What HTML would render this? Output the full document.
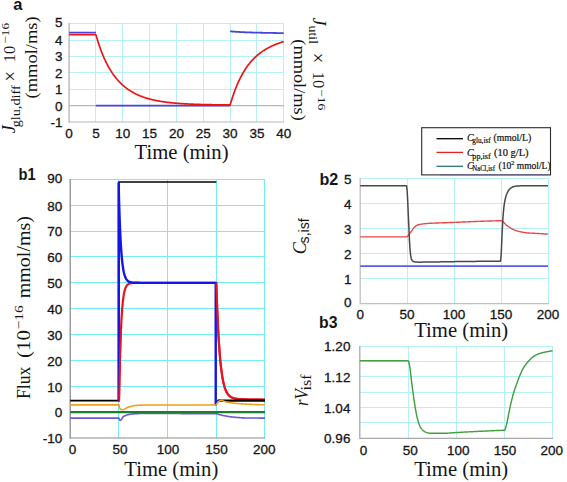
<!DOCTYPE html>
<html><head><meta charset="utf-8"><style>
html,body{margin:0;padding:0;background:#fff;}
body{width:567px;height:482px;overflow:hidden;font-family:"Liberation Sans",sans-serif;}
svg{display:block;}
</style></head><body>
<svg width="567" height="482" viewBox="0 0 567 482">
<rect width="567" height="482" fill="#fff"/>
<line x1="69.1" y1="89.5" x2="284.0" y2="89.5" stroke="#b6f2f4" stroke-width="1"/>
<line x1="69.1" y1="72.5" x2="284.0" y2="72.5" stroke="#b6f2f4" stroke-width="1"/>
<line x1="69.1" y1="56.5" x2="284.0" y2="56.5" stroke="#b6f2f4" stroke-width="1"/>
<line x1="69.1" y1="40.5" x2="284.0" y2="40.5" stroke="#b6f2f4" stroke-width="1"/>
<line x1="69.1" y1="23.5" x2="284.0" y2="23.5" stroke="#b6f2f4" stroke-width="1"/>
<line x1="95.5" y1="23.0" x2="95.5" y2="122.0" stroke="#b6f2f4" stroke-width="1"/>
<line x1="122.5" y1="23.0" x2="122.5" y2="122.0" stroke="#b6f2f4" stroke-width="1"/>
<line x1="149.5" y1="23.0" x2="149.5" y2="122.0" stroke="#b6f2f4" stroke-width="1"/>
<line x1="176.5" y1="23.0" x2="176.5" y2="122.0" stroke="#b6f2f4" stroke-width="1"/>
<line x1="203.5" y1="23.0" x2="203.5" y2="122.0" stroke="#b6f2f4" stroke-width="1"/>
<line x1="230.5" y1="23.0" x2="230.5" y2="122.0" stroke="#b6f2f4" stroke-width="1"/>
<line x1="256.5" y1="23.0" x2="256.5" y2="122.0" stroke="#b6f2f4" stroke-width="1"/>
<line x1="283.5" y1="23.0" x2="283.5" y2="122.0" stroke="#b6f2f4" stroke-width="1"/>
<line x1="69.1" y1="23.0" x2="69.1" y2="122.7" stroke="#b8b8b8" stroke-width="1.4"/>
<line x1="69.1" y1="122.0" x2="284.0" y2="122.0" stroke="#b8b8b8" stroke-width="1.2"/>
<line x1="69.1" y1="105.6" x2="284.0" y2="105.6" stroke="#b8b8b8" stroke-width="1.2"/>
<path d="M69.10,32.64 L95.92,32.64" fill="none" stroke="#4646d8" stroke-width="1.80" stroke-linejoin="round" stroke-linecap="butt" />
<path d="M95.92,105.63 L230.05,105.63" fill="none" stroke="#4646d8" stroke-width="1.90" stroke-linejoin="round" stroke-linecap="butt" />
<path d="M230.05,31.33 L230.39,31.36 L230.72,31.38 L231.06,31.41 L231.40,31.44 L231.74,31.47 L232.07,31.49 L232.41,31.52 L232.75,31.55 L233.09,31.57 L233.42,31.60 L233.76,31.62 L234.10,31.65 L234.44,31.67 L234.77,31.70 L235.11,31.72 L235.45,31.74 L235.79,31.76 L236.12,31.78 L236.46,31.80 L236.80,31.83 L237.14,31.85 L237.47,31.87 L237.81,31.89 L238.15,31.91 L238.49,31.93 L238.82,31.95 L239.16,31.97 L239.50,31.99 L239.84,32.01 L240.17,32.02 L240.51,32.04 L240.85,32.06 L241.18,32.08 L241.52,32.10 L241.86,32.12 L242.20,32.13 L242.53,32.15 L242.87,32.17 L243.21,32.18 L243.55,32.20 L243.88,32.21 L244.22,32.23 L244.56,32.24 L244.90,32.26 L245.23,32.27 L245.57,32.29 L245.91,32.30 L246.25,32.31 L246.58,32.33 L246.92,32.34 L247.26,32.35 L247.60,32.36 L247.93,32.38 L248.27,32.39 L248.61,32.40 L248.95,32.41 L249.28,32.42 L249.62,32.43 L249.96,32.45 L250.30,32.46 L250.63,32.47 L250.97,32.48 L251.31,32.49 L251.64,32.50 L251.98,32.51 L252.32,32.52 L252.66,32.53 L252.99,32.54 L253.33,32.55 L253.67,32.55 L254.01,32.56 L254.34,32.57 L254.68,32.58 L255.02,32.59 L255.36,32.60 L255.69,32.61 L256.03,32.62 L256.37,32.63 L256.71,32.63 L257.04,32.64 L257.38,32.65 L257.72,32.66 L258.06,32.67 L258.39,32.67 L258.73,32.68 L259.07,32.69 L259.41,32.70 L259.74,32.71 L260.08,32.71 L260.42,32.72 L260.76,32.73 L261.09,32.74 L261.43,32.74 L261.77,32.75 L262.11,32.76 L262.44,32.77 L262.78,32.77 L263.12,32.78 L263.45,32.79 L263.79,32.79 L264.13,32.80 L264.47,32.81 L264.80,32.81 L265.14,32.82 L265.48,32.83 L265.82,32.83 L266.15,32.84 L266.49,32.85 L266.83,32.85 L267.17,32.86 L267.50,32.87 L267.84,32.87 L268.18,32.88 L268.52,32.89 L268.85,32.89 L269.19,32.90 L269.53,32.90 L269.87,32.91 L270.20,32.92 L270.54,32.92 L270.88,32.93 L271.22,32.93 L271.55,32.94 L271.89,32.95 L272.23,32.95 L272.57,32.96 L272.90,32.96 L273.24,32.97 L273.58,32.98 L273.91,32.98 L274.25,32.99 L274.59,32.99 L274.93,33.00 L275.26,33.00 L275.60,33.01 L275.94,33.01 L276.28,33.02 L276.61,33.03 L276.95,33.03 L277.29,33.04 L277.63,33.04 L277.96,33.05 L278.30,33.05 L278.64,33.06 L278.98,33.06 L279.31,33.07 L279.65,33.07 L279.99,33.08 L280.33,33.08 L280.66,33.09 L281.00,33.09 L281.34,33.10 L281.68,33.10 L282.01,33.11 L282.35,33.11 L282.69,33.12 L283.03,33.12 L283.36,33.12 L283.70,33.13" fill="none" stroke="#4646d8" stroke-width="1.80" stroke-linejoin="round" stroke-linecap="butt" />
<path d="M69.10,34.77 L95.92,34.77 L95.92,34.77 L96.37,36.34 L96.82,37.88 L97.27,39.37 L97.72,40.83 L98.17,42.25 L98.62,43.63 L99.07,44.98 L99.51,46.30 L99.96,47.58 L100.41,48.83 L100.86,50.05 L101.31,51.24 L101.76,52.40 L102.21,53.53 L102.65,54.63 L103.10,55.71 L103.55,56.76 L104.00,57.79 L104.45,58.79 L104.90,59.77 L105.35,60.73 L105.79,61.66 L106.24,62.57 L106.69,63.46 L107.14,64.33 L107.59,65.18 L108.04,66.01 L108.49,66.83 L108.93,67.62 L109.38,68.40 L109.83,69.15 L110.28,69.89 L110.73,70.62 L111.18,71.33 L111.63,72.02 L112.07,72.70 L112.52,73.36 L112.97,74.01 L113.42,74.64 L113.87,75.26 L114.32,75.87 L114.77,76.46 L115.21,77.04 L115.66,77.61 L116.11,78.17 L116.56,78.71 L117.01,79.24 L117.46,79.76 L117.91,80.27 L118.35,80.77 L118.80,81.26 L119.25,81.74 L119.70,82.21 L120.15,82.66 L120.60,83.11 L121.05,83.55 L121.49,83.98 L121.94,84.40 L122.39,84.82 L122.84,85.22 L123.29,85.62 L123.74,86.00 L124.19,86.38 L124.63,86.75 L125.08,87.12 L125.53,87.47 L125.98,87.82 L126.43,88.17 L126.88,88.50 L127.33,88.83 L127.77,89.15 L128.22,89.46 L128.67,89.77 L129.12,90.08 L129.57,90.37 L130.02,90.66 L130.47,90.95 L130.91,91.23 L131.36,91.50 L131.81,91.77 L132.26,92.03 L132.71,92.29 L133.16,92.54 L133.61,92.78 L134.05,93.03 L134.50,93.26 L134.95,93.50 L135.40,93.72 L135.85,93.95 L136.30,94.16 L136.75,94.38 L137.19,94.59 L137.64,94.80 L138.09,95.00 L138.54,95.19 L138.99,95.39 L139.44,95.58 L139.89,95.76 L140.33,95.95 L140.78,96.13 L141.23,96.30 L141.68,96.47 L142.13,96.64 L142.58,96.81 L143.03,96.97 L143.47,97.13 L143.92,97.28 L144.37,97.44 L144.82,97.59 L145.27,97.73 L145.72,97.88 L146.17,98.02 L146.61,98.16 L147.06,98.29 L147.51,98.43 L147.96,98.56 L148.41,98.68 L148.86,98.81 L149.31,98.93 L149.75,99.05 L150.20,99.17 L150.65,99.29 L151.10,99.40 L151.55,99.51 L152.00,99.62 L152.45,99.73 L152.89,99.83 L153.34,99.93 L153.79,100.03 L154.24,100.13 L154.69,100.23 L155.14,100.33 L155.59,100.42 L156.03,100.51 L156.48,100.60 L156.93,100.69 L157.38,100.77 L157.83,100.86 L158.28,100.94 L158.73,101.02 L159.17,101.10 L159.62,101.18 L160.07,101.26 L160.52,101.33 L160.97,101.40 L161.42,101.48 L161.87,101.55 L162.31,101.62 L162.76,101.69 L163.21,101.75 L163.66,101.82 L164.11,101.88 L164.56,101.94 L165.01,102.01 L165.45,102.07 L165.90,102.13 L166.35,102.18 L166.80,102.24 L167.25,102.30 L167.70,102.35 L168.15,102.41 L168.59,102.46 L169.04,102.51 L169.49,102.56 L169.94,102.61 L170.39,102.66 L170.84,102.71 L171.29,102.75 L171.73,102.80 L172.18,102.85 L172.63,102.89 L173.08,102.93 L173.53,102.98 L173.98,103.02 L174.43,103.06 L174.87,103.10 L175.32,103.14 L175.77,103.18 L176.22,103.21 L176.67,103.25 L177.12,103.29 L177.57,103.32 L178.01,103.36 L178.46,103.39 L178.91,103.43 L179.36,103.46 L179.81,103.49 L180.26,103.52 L180.71,103.55 L181.15,103.58 L181.60,103.61 L182.05,103.64 L182.50,103.67 L182.95,103.70 L183.40,103.73 L183.85,103.76 L184.29,103.78 L184.74,103.81 L185.19,103.83 L185.64,103.86 L186.09,103.88 L186.54,103.91 L186.99,103.93 L187.44,103.95 L187.88,103.98 L188.33,104.00 L188.78,104.02 L189.23,104.04 L189.68,104.06 L190.13,104.08 L190.58,104.10 L191.02,104.12 L191.47,104.14 L191.92,104.16 L192.37,104.18 L192.82,104.20 L193.27,104.22 L193.72,104.24 L194.16,104.25 L194.61,104.27 L195.06,104.29 L195.51,104.30 L195.96,104.32 L196.41,104.33 L196.86,104.35 L197.30,104.37 L197.75,104.38 L198.20,104.39 L198.65,104.41 L199.10,104.42 L199.55,104.44 L200.00,104.45 L200.44,104.46 L200.89,104.48 L201.34,104.49 L201.79,104.50 L202.24,104.51 L202.69,104.52 L203.14,104.54 L203.58,104.55 L204.03,104.56 L204.48,104.57 L204.93,104.58 L205.38,104.59 L205.83,104.60 L206.28,104.61 L206.72,104.62 L207.17,104.63 L207.62,104.64 L208.07,104.65 L208.52,104.66 L208.97,104.67 L209.42,104.68 L209.86,104.69 L210.31,104.70 L210.76,104.70 L211.21,104.71 L211.66,104.72 L212.11,104.73 L212.56,104.74 L213.00,104.74 L213.45,104.75 L213.90,104.76 L214.35,104.77 L214.80,104.77 L215.25,104.78 L215.70,104.79 L216.14,104.79 L216.59,104.80 L217.04,104.81 L217.49,104.81 L217.94,104.82 L218.39,104.82 L218.84,104.83 L219.28,104.84 L219.73,104.84 L220.18,104.85 L220.63,104.85 L221.08,104.86 L221.53,104.86 L221.98,104.87 L222.42,104.87 L222.87,104.88 L223.32,104.88 L223.77,104.89 L224.22,104.89 L224.67,104.90 L225.12,104.90 L225.56,104.91 L226.01,104.91 L226.46,104.92 L226.91,104.92 L227.36,104.92 L227.81,104.93 L228.26,104.93 L228.70,104.94 L229.15,104.94 L229.60,104.94 L230.05,104.95 L230.05,105.14 L230.41,103.92 L230.77,102.72 L231.13,101.54 L231.49,100.38 L231.85,99.25 L232.21,98.14 L232.57,97.05 L232.93,95.98 L233.29,94.93 L233.65,93.90 L234.01,92.89 L234.37,91.90 L234.73,90.93 L235.09,89.98 L235.45,89.04 L235.81,88.13 L236.17,87.23 L236.53,86.35 L236.89,85.48 L237.25,84.63 L237.61,83.80 L237.97,82.98 L238.33,82.18 L238.69,81.39 L239.05,80.62 L239.41,79.86 L239.77,79.12 L240.13,78.39 L240.49,77.67 L240.85,76.97 L241.21,76.28 L241.57,75.60 L241.93,74.93 L242.29,74.28 L242.65,73.64 L243.01,73.01 L243.37,72.39 L243.73,71.79 L244.09,71.19 L244.45,70.61 L244.81,70.04 L245.17,69.47 L245.53,68.92 L245.89,68.38 L246.25,67.84 L246.61,67.32 L246.97,66.81 L247.33,66.30 L247.69,65.81 L248.05,65.32 L248.41,64.84 L248.77,64.37 L249.13,63.91 L249.49,63.46 L249.85,63.01 L250.21,62.57 L250.57,62.14 L250.93,61.72 L251.29,61.31 L251.65,60.90 L252.01,60.50 L252.37,60.10 L252.73,59.72 L253.09,59.34 L253.45,58.96 L253.81,58.60 L254.17,58.23 L254.53,57.88 L254.89,57.53 L255.25,57.19 L255.61,56.85 L255.97,56.52 L256.33,56.19 L256.69,55.87 L257.06,55.55 L257.42,55.24 L257.78,54.94 L258.14,54.64 L258.50,54.34 L258.86,54.05 L259.22,53.76 L259.58,53.48 L259.94,53.21 L260.30,52.93 L260.66,52.67 L261.02,52.40 L261.38,52.14 L261.74,51.89 L262.10,51.63 L262.46,51.39 L262.82,51.14 L263.18,50.90 L263.54,50.66 L263.90,50.43 L264.26,50.20 L264.62,49.97 L264.98,49.75 L265.34,49.53 L265.70,49.32 L266.06,49.10 L266.42,48.89 L266.78,48.69 L267.14,48.48 L267.50,48.28 L267.86,48.08 L268.22,47.89 L268.58,47.69 L268.94,47.50 L269.30,47.32 L269.66,47.13 L270.02,46.95 L270.38,46.77 L270.74,46.59 L271.10,46.42 L271.46,46.25 L271.82,46.08 L272.18,45.91 L272.54,45.74 L272.90,45.58 L273.26,45.42 L273.62,45.26 L273.98,45.10 L274.34,44.94 L274.70,44.79 L275.06,44.64 L275.42,44.49 L275.78,44.34 L276.14,44.19 L276.50,44.05 L276.86,43.91 L277.22,43.77 L277.58,43.63 L277.94,43.49 L278.30,43.35 L278.66,43.22 L279.02,43.09 L279.38,42.95 L279.74,42.82 L280.10,42.70 L280.46,42.57 L280.82,42.44 L281.18,42.32 L281.54,42.19 L281.90,42.07 L282.26,41.95 L282.62,41.83 L282.98,41.71 L283.34,41.60 L283.70,41.48" fill="none" stroke="#f01414" stroke-width="1.70" stroke-linejoin="round" stroke-linecap="butt" />
<text x="62.6" y="27.4" font-family="Liberation Sans, sans-serif" font-size="13.5" text-anchor="end" fill="#151515" stroke="#151515" stroke-width="0.3">5</text>
<text x="62.6" y="45.1" font-family="Liberation Sans, sans-serif" font-size="13.5" text-anchor="end" fill="#151515" stroke="#151515" stroke-width="0.3">4</text>
<text x="62.6" y="61.4" font-family="Liberation Sans, sans-serif" font-size="13.5" text-anchor="end" fill="#151515" stroke="#151515" stroke-width="0.3">3</text>
<text x="62.6" y="77.8" font-family="Liberation Sans, sans-serif" font-size="13.5" text-anchor="end" fill="#151515" stroke="#151515" stroke-width="0.3">2</text>
<text x="62.6" y="94.2" font-family="Liberation Sans, sans-serif" font-size="13.5" text-anchor="end" fill="#151515" stroke="#151515" stroke-width="0.3">1</text>
<text x="62.6" y="110.5" font-family="Liberation Sans, sans-serif" font-size="13.5" text-anchor="end" fill="#151515" stroke="#151515" stroke-width="0.3">0</text>
<text x="62.6" y="126.9" font-family="Liberation Sans, sans-serif" font-size="13.5" text-anchor="end" fill="#151515" stroke="#151515" stroke-width="0.3">-1</text>
<text x="69.1" y="137.6" font-family="Liberation Sans, sans-serif" font-size="13.5" text-anchor="middle" fill="#151515" stroke="#151515" stroke-width="0.3">0</text>
<text x="95.9" y="137.6" font-family="Liberation Sans, sans-serif" font-size="13.5" text-anchor="middle" fill="#151515" stroke="#151515" stroke-width="0.3">5</text>
<text x="122.8" y="137.6" font-family="Liberation Sans, sans-serif" font-size="13.5" text-anchor="middle" fill="#151515" stroke="#151515" stroke-width="0.3">10</text>
<text x="149.6" y="137.6" font-family="Liberation Sans, sans-serif" font-size="13.5" text-anchor="middle" fill="#151515" stroke="#151515" stroke-width="0.3">15</text>
<text x="176.4" y="137.6" font-family="Liberation Sans, sans-serif" font-size="13.5" text-anchor="middle" fill="#151515" stroke="#151515" stroke-width="0.3">20</text>
<text x="203.2" y="137.6" font-family="Liberation Sans, sans-serif" font-size="13.5" text-anchor="middle" fill="#151515" stroke="#151515" stroke-width="0.3">25</text>
<text x="230.0" y="137.6" font-family="Liberation Sans, sans-serif" font-size="13.5" text-anchor="middle" fill="#151515" stroke="#151515" stroke-width="0.3">30</text>
<text x="256.9" y="137.6" font-family="Liberation Sans, sans-serif" font-size="13.5" text-anchor="middle" fill="#151515" stroke="#151515" stroke-width="0.3">35</text>
<text x="283.7" y="137.6" font-family="Liberation Sans, sans-serif" font-size="13.5" text-anchor="middle" fill="#151515" stroke="#151515" stroke-width="0.3">40</text>
<text x="181.6" y="158.6" font-family="Liberation Serif, serif" font-size="20.5" text-anchor="middle" textLength="94.0" lengthAdjust="spacingAndGlyphs" fill="#151515">Time (min)</text>
<text x="13.3" y="10" font-family="Liberation Sans, sans-serif" font-size="16.5" font-weight="bold" fill="#151515">a</text>
<g transform="translate(15.00,131.80) rotate(-90)"><text x="-1.50" y="0.00" font-family="Liberation Serif, serif" font-size="18.0" font-style="italic" fill="#151515">J</text><text x="4.50" y="4.60" font-family="Liberation Serif, serif" font-size="12.5" textLength="42.0" lengthAdjust="spacingAndGlyphs" fill="#151515">glu,diff</text><text x="50.30" y="1.60" font-family="Liberation Serif, serif" font-size="21.0" textLength="10.5" lengthAdjust="spacingAndGlyphs" fill="#151515">×</text><text x="69.60" y="0.00" font-family="Liberation Serif, serif" font-size="16.0" textLength="16.5" lengthAdjust="spacingAndGlyphs" fill="#151515">10</text><text x="88.00" y="-5.90" font-family="Liberation Serif, serif" font-size="11.0" textLength="21.0" lengthAdjust="spacingAndGlyphs" fill="#151515">−16</text></g>
<g transform="translate(37.00,98.40) rotate(-90)"><text x="0.00" y="0.00" font-family="Liberation Serif, serif" font-size="17.0" textLength="82.0" lengthAdjust="spacingAndGlyphs" fill="#151515">(mmol/ms)</text></g>
<g transform="translate(312.60,17.50) rotate(90)"><text x="0.00" y="0.00" font-family="Liberation Serif, serif" font-size="18.0" font-style="italic" fill="#151515">J</text><text x="8.00" y="3.30" font-family="Liberation Serif, serif" font-size="12.5" textLength="18.5" lengthAdjust="spacingAndGlyphs" fill="#151515">util</text><text x="35.30" y="1.20" font-family="Liberation Serif, serif" font-size="21.0" textLength="10.5" lengthAdjust="spacingAndGlyphs" fill="#151515">×</text><text x="54.30" y="0.00" font-family="Liberation Serif, serif" font-size="16.0" textLength="16.5" lengthAdjust="spacingAndGlyphs" fill="#151515">10</text><text x="71.50" y="-5.40" font-family="Liberation Serif, serif" font-size="11.0" textLength="21.5" lengthAdjust="spacingAndGlyphs" fill="#151515">−16</text></g>
<g transform="translate(293.80,39.30) rotate(90)"><text x="0.00" y="0.00" font-family="Liberation Serif, serif" font-size="17.0" textLength="81.5" lengthAdjust="spacingAndGlyphs" fill="#151515">(mmol/ms)</text></g>
<line x1="70.2" y1="412.5" x2="265.0" y2="412.5" stroke="#74eef6" stroke-width="1"/>
<line x1="70.2" y1="386.5" x2="265.0" y2="386.5" stroke="#74eef6" stroke-width="1"/>
<line x1="70.2" y1="360.5" x2="265.0" y2="360.5" stroke="#74eef6" stroke-width="1"/>
<line x1="70.2" y1="334.5" x2="265.0" y2="334.5" stroke="#74eef6" stroke-width="1"/>
<line x1="70.2" y1="308.5" x2="265.0" y2="308.5" stroke="#74eef6" stroke-width="1"/>
<line x1="70.2" y1="282.5" x2="265.0" y2="282.5" stroke="#74eef6" stroke-width="1"/>
<line x1="70.2" y1="256.5" x2="265.0" y2="256.5" stroke="#74eef6" stroke-width="1"/>
<line x1="70.2" y1="231.5" x2="265.0" y2="231.5" stroke="#74eef6" stroke-width="1"/>
<line x1="70.2" y1="205.5" x2="265.0" y2="205.5" stroke="#74eef6" stroke-width="1"/>
<line x1="70.2" y1="179.5" x2="265.0" y2="179.5" stroke="#74eef6" stroke-width="1"/>
<line x1="118.5" y1="179.0" x2="118.5" y2="438.0" stroke="#74eef6" stroke-width="1"/>
<line x1="167.5" y1="179.0" x2="167.5" y2="438.0" stroke="#74eef6" stroke-width="1"/>
<line x1="216.5" y1="179.0" x2="216.5" y2="438.0" stroke="#74eef6" stroke-width="1"/>
<line x1="264.5" y1="179.0" x2="264.5" y2="438.0" stroke="#74eef6" stroke-width="1"/>
<line x1="70.2" y1="179.0" x2="70.2" y2="438.7" stroke="#8c8c8c" stroke-width="1.3"/>
<line x1="70.2" y1="438.0" x2="265.0" y2="438.0" stroke="#8c8c8c" stroke-width="1.2"/>
<path d="M70.20,418.09 L118.90,418.09 L118.90,418.09 L119.51,419.62 L120.13,420.41 L120.74,420.17 L121.35,419.50 L121.96,418.58 L122.58,417.61 L123.19,416.78 L123.80,416.26 L124.41,415.96 L125.03,415.69 L125.64,415.44 L126.25,415.21 L126.86,415.00 L127.48,414.82 L128.09,414.66 L128.70,414.52 L129.31,414.40 L129.93,414.29 L130.54,414.21 L131.15,414.15 L131.76,414.08 L132.38,414.02 L132.99,413.96 L133.60,413.90 L134.21,413.84 L134.83,413.79 L135.44,413.75 L136.05,413.71 L136.66,413.67 L137.28,413.64 L137.89,413.61 L138.50,413.59 L139.12,413.57 L139.73,413.57 L140.34,413.56 L140.95,413.56 L141.57,413.56 L142.18,413.56 L142.79,413.56 L143.40,413.56 L144.02,413.56 L144.63,413.56 L145.24,413.56 L145.85,413.56 L146.47,413.56 L147.08,413.56 L147.69,413.56 L148.30,413.56 L148.92,413.56 L149.53,413.56 L150.14,413.56 L150.75,413.56 L151.37,413.56 L151.98,413.56 L152.59,413.56 L153.20,413.56 L153.82,413.56 L154.43,413.56 L155.04,413.56 L155.65,413.56 L156.27,413.56 L156.88,413.56 L157.49,413.56 L158.11,413.56 L158.72,413.56 L159.33,413.56 L159.94,413.56 L160.56,413.56 L161.17,413.56 L161.78,413.56 L162.39,413.56 L163.01,413.56 L163.62,413.56 L164.23,413.56 L164.84,413.56 L165.46,413.56 L166.07,413.56 L166.68,413.56 L167.29,413.56 L167.91,413.56 L168.52,413.56 L169.13,413.56 L169.74,413.56 L170.36,413.56 L170.97,413.56 L171.58,413.56 L172.19,413.56 L172.81,413.56 L173.42,413.56 L174.03,413.57 L174.64,413.57 L175.26,413.57 L175.87,413.57 L176.48,413.57 L177.09,413.57 L177.71,413.57 L178.32,413.57 L178.93,413.57 L179.55,413.57 L180.16,413.57 L180.77,413.57 L181.38,413.58 L182.00,413.58 L182.61,413.58 L183.22,413.58 L183.83,413.58 L184.45,413.58 L185.06,413.58 L185.67,413.58 L186.28,413.59 L186.90,413.59 L187.51,413.59 L188.12,413.59 L188.73,413.59 L189.35,413.59 L189.96,413.59 L190.57,413.60 L191.18,413.60 L191.80,413.60 L192.41,413.60 L193.02,413.60 L193.63,413.61 L194.25,413.61 L194.86,413.61 L195.47,413.61 L196.08,413.61 L196.70,413.62 L197.31,413.62 L197.92,413.62 L198.54,413.62 L199.15,413.62 L199.76,413.63 L200.37,413.63 L200.99,413.63 L201.60,413.63 L202.21,413.63 L202.82,413.64 L203.44,413.64 L204.05,413.64 L204.66,413.64 L205.27,413.65 L205.89,413.65 L206.50,413.65 L207.11,413.65 L207.72,413.66 L208.34,413.66 L208.95,413.66 L209.56,413.66 L210.17,413.67 L210.79,413.67 L211.40,413.67 L212.01,413.67 L212.62,413.68 L213.24,413.68 L213.85,413.68 L214.46,413.68 L215.07,413.69 L215.69,413.69 L216.30,413.69 L216.30,413.69 L216.61,413.79 L216.91,413.88 L217.22,413.97 L217.53,414.06 L217.83,414.16 L218.14,414.25 L218.44,414.33 L218.75,414.42 L219.06,414.51 L219.36,414.59 L219.67,414.68 L219.98,414.76 L220.28,414.84 L220.59,414.92 L220.89,415.00 L221.20,415.07 L221.51,415.15 L221.81,415.22 L222.12,415.29 L222.43,415.36 L222.73,415.42 L223.04,415.49 L223.34,415.55 L223.65,415.61 L223.96,415.67 L224.26,415.73 L224.57,415.79 L224.88,415.85 L225.18,415.91 L225.49,415.96 L225.79,416.02 L226.10,416.08 L226.41,416.13 L226.71,416.19 L227.02,416.24 L227.33,416.29 L227.63,416.34 L227.94,416.39 L228.25,416.44 L228.55,416.49 L228.86,416.54 L229.16,416.59 L229.47,416.63 L229.78,416.68 L230.08,416.72 L230.39,416.76 L230.70,416.80 L231.00,416.84 L231.31,416.88 L231.61,416.92 L231.92,416.95 L232.23,416.99 L232.53,417.02 L232.84,417.05 L233.15,417.08 L233.45,417.11 L233.76,417.14 L234.06,417.17 L234.37,417.20 L234.68,417.24 L234.98,417.27 L235.29,417.30 L235.60,417.32 L235.90,417.35 L236.21,417.38 L236.52,417.41 L236.82,417.44 L237.13,417.47 L237.43,417.50 L237.74,417.52 L238.05,417.55 L238.35,417.58 L238.66,417.60 L238.97,417.63 L239.27,417.65 L239.58,417.67 L239.88,417.70 L240.19,417.72 L240.50,417.74 L240.80,417.76 L241.11,417.78 L241.42,417.80 L241.72,417.82 L242.03,417.84 L242.33,417.85 L242.64,417.87 L242.95,417.88 L243.25,417.90 L243.56,417.91 L243.87,417.92 L244.17,417.93 L244.48,417.94 L244.78,417.95 L245.09,417.95 L245.40,417.96 L245.70,417.96 L246.01,417.96 L246.32,417.97 L246.62,417.97 L246.93,417.98 L247.24,417.98 L247.54,417.98 L247.85,417.99 L248.15,417.99 L248.46,417.99 L248.77,418.00 L249.07,418.00 L249.38,418.00 L249.69,418.01 L249.99,418.01 L250.30,418.01 L250.60,418.02 L250.91,418.02 L251.22,418.02 L251.52,418.02 L251.83,418.03 L252.14,418.03 L252.44,418.03 L252.75,418.04 L253.05,418.04 L253.36,418.04 L253.67,418.04 L253.97,418.05 L254.28,418.05 L254.59,418.05 L254.89,418.05 L255.20,418.05 L255.51,418.06 L255.81,418.06 L256.12,418.06 L256.42,418.06 L256.73,418.06 L257.04,418.07 L257.34,418.07 L257.65,418.07 L257.96,418.07 L258.26,418.07 L258.57,418.07 L258.87,418.07 L259.18,418.08 L259.49,418.08 L259.79,418.08 L260.10,418.08 L260.41,418.08 L260.71,418.08 L261.02,418.08 L261.32,418.08 L261.63,418.08 L261.94,418.08 L262.24,418.09 L262.55,418.09 L262.86,418.09 L263.16,418.09 L263.47,418.09 L263.77,418.09 L264.08,418.09 L264.39,418.09 L264.69,418.09 L265.00,418.09" fill="none" stroke="#6a5ad8" stroke-width="1.60" stroke-linejoin="round" stroke-linecap="butt" />
<path d="M70.20,412.14 L265.00,412.14" fill="none" stroke="#1c7e26" stroke-width="2.40" stroke-linejoin="round" stroke-linecap="butt" />
<path d="M70.20,400.63 L118.90,400.63 L118.90,181.99 L216.30,181.99" fill="none" stroke="#000" stroke-width="1.70" stroke-linejoin="round" stroke-linecap="butt" />
<path d="M118.90,400.63 L119.09,400.63 L119.34,387.41 L119.58,375.66 L119.83,365.24 L120.07,355.99 L120.31,347.77 L120.56,340.48 L120.80,334.01 L121.04,328.27 L121.29,323.16 L121.53,318.64 L121.77,314.62 L122.02,311.05 L122.26,307.88 L122.51,305.07 L122.75,302.57 L122.99,300.36 L123.24,298.39 L123.48,296.64 L123.72,295.09 L123.97,293.72 L124.21,292.50 L124.45,291.41 L124.70,290.45 L124.94,289.60 L125.19,288.84 L125.43,288.16 L125.67,287.57 L125.92,287.04 L126.16,286.56 L126.40,286.15 L126.65,285.77 L126.89,285.45 L127.13,285.15 L127.38,284.89 L127.62,284.66 L127.87,284.46 L128.11,284.28 L128.35,284.11 L128.60,283.97 L128.84,283.84 L129.08,283.73 L129.33,283.63 L129.57,283.54 L129.81,283.46 L130.06,283.39 L130.30,283.33 L130.55,283.28 L130.79,283.23 L131.03,283.18 L131.28,283.15 L131.52,283.11 L131.76,283.08 L132.01,283.05 L132.25,283.03 L132.49,283.01 L132.74,282.99 L132.98,282.97 L133.22,282.96 L133.47,282.94 L133.71,282.93 L133.96,282.92 L134.20,282.91 L134.44,282.90 L134.69,282.90 L134.93,282.89 L135.17,282.89 L135.42,282.88 L135.66,282.88 L135.90,282.87 L136.15,282.87 L136.39,282.87 L136.64,282.86 L136.88,282.86 L137.12,282.86 L137.37,282.86 L137.61,282.85 L137.85,282.85 L138.10,282.85 L138.34,282.85 L138.58,282.85 L138.83,282.85 L139.07,282.85 L139.32,282.85 L139.56,282.85 L139.80,282.84 L140.05,282.84 L140.29,282.84 L140.53,282.84 L140.78,282.84 L141.02,282.84 L141.26,282.84 L141.51,282.84 L141.75,282.84 L142.00,282.84 L142.24,282.84 L142.48,282.84 L142.73,282.84 L142.97,282.84 L143.21,282.84 L143.46,282.84 L143.70,282.84 L143.94,282.84 L144.19,282.84 L144.43,282.84 L144.68,282.84 L144.92,282.84 L145.16,282.84 L145.41,282.84 L145.65,282.84 L145.89,282.84 L146.14,282.84 L146.38,282.84 L146.62,282.84 L146.87,282.84 L147.11,282.84 L147.35,282.84 L147.60,282.84 L147.84,282.84 L148.09,282.84 L148.33,282.84 L148.57,282.84 L148.82,282.84 L149.06,282.84 L149.30,282.84 L149.55,282.84 L149.79,282.84 L150.03,282.84 L150.28,282.84 L150.52,282.84 L150.77,282.84 L151.01,282.84 L151.25,282.84 L151.50,282.84 L151.74,282.84 L151.98,282.84 L152.23,282.84 L152.47,282.84 L152.71,282.84 L152.96,282.84 L153.20,282.84 L153.45,282.84 L153.69,282.84 L153.93,282.84 L154.18,282.84 L154.42,282.84 L154.66,282.84 L154.91,282.84 L155.15,282.84 L155.39,282.84 L155.64,282.84 L155.88,282.84 L156.13,282.84 L156.37,282.84 L156.61,282.84 L156.86,282.84 L157.10,282.84 L157.34,282.84 L157.59,282.84 L157.83,282.84 L158.07,282.84 L158.32,282.84 L158.56,282.84 L158.81,282.84 L159.05,282.84 L159.29,282.84 L159.54,282.84 L159.78,282.84 L160.02,282.84 L160.27,282.84 L160.51,282.84 L160.75,282.84 L161.00,282.84 L161.24,282.84 L161.49,282.84 L161.73,282.84 L161.97,282.84 L162.22,282.84 L162.46,282.84 L162.70,282.84 L162.95,282.84 L163.19,282.84 L163.43,282.84 L163.68,282.84 L163.92,282.84 L164.16,282.84 L164.41,282.84 L164.65,282.84 L164.90,282.84 L165.14,282.84 L165.38,282.84 L165.63,282.84 L165.87,282.84 L166.11,282.84 L166.36,282.84 L166.60,282.84 L166.84,282.84 L167.09,282.84 L167.33,282.84 L167.58,282.84 L167.82,282.84 L168.06,282.84 L168.31,282.84 L168.55,282.84 L168.79,282.84 L169.04,282.84 L169.28,282.84 L169.52,282.84 L169.77,282.84 L170.01,282.84 L170.26,282.84 L170.50,282.84 L170.74,282.84 L170.99,282.84 L171.23,282.84 L171.47,282.84 L171.72,282.84 L171.96,282.84 L172.20,282.84 L172.45,282.84 L172.69,282.84 L172.94,282.84 L173.18,282.84 L173.42,282.84 L173.67,282.84 L173.91,282.84 L174.15,282.84 L174.40,282.84 L174.64,282.84 L174.88,282.84 L175.13,282.84 L175.37,282.84 L175.62,282.84 L175.86,282.84 L176.10,282.84 L176.35,282.84 L176.59,282.84 L176.83,282.84 L177.08,282.84 L177.32,282.84 L177.56,282.84 L177.81,282.84 L178.05,282.84 L178.29,282.84 L178.54,282.84 L178.78,282.84 L179.03,282.84 L179.27,282.84 L179.51,282.84 L179.76,282.84 L180.00,282.84 L180.24,282.84 L180.49,282.84 L180.73,282.84 L180.97,282.84 L181.22,282.84 L181.46,282.84 L181.71,282.84 L181.95,282.84 L182.19,282.84 L182.44,282.84 L182.68,282.84 L182.92,282.84 L183.17,282.84 L183.41,282.84 L183.65,282.84 L183.90,282.84 L184.14,282.84 L184.39,282.84 L184.63,282.84 L184.87,282.84 L185.12,282.84 L185.36,282.84 L185.60,282.84 L185.85,282.84 L186.09,282.84 L186.33,282.84 L186.58,282.84 L186.82,282.84 L187.07,282.84 L187.31,282.84 L187.55,282.84 L187.80,282.84 L188.04,282.84 L188.28,282.84 L188.53,282.84 L188.77,282.84 L189.01,282.84 L189.26,282.84 L189.50,282.84 L189.75,282.84 L189.99,282.84 L190.23,282.84 L190.48,282.84 L190.72,282.84 L190.96,282.84 L191.21,282.84 L191.45,282.84 L191.69,282.84 L191.94,282.84 L192.18,282.84 L192.43,282.84 L192.67,282.84 L192.91,282.84 L193.16,282.84 L193.40,282.84 L193.64,282.84 L193.89,282.84 L194.13,282.84 L194.37,282.84 L194.62,282.84 L194.86,282.84 L195.10,282.84 L195.35,282.84 L195.59,282.84 L195.84,282.84 L196.08,282.84 L196.32,282.84 L196.57,282.84 L196.81,282.84 L197.05,282.84 L197.30,282.84 L197.54,282.84 L197.78,282.84 L198.03,282.84 L198.27,282.84 L198.52,282.84 L198.76,282.84 L199.00,282.84 L199.25,282.84 L199.49,282.84 L199.73,282.84 L199.98,282.84 L200.22,282.84 L200.46,282.84 L200.71,282.84 L200.95,282.84 L201.20,282.84 L201.44,282.84 L201.68,282.84 L201.93,282.84 L202.17,282.84 L202.41,282.84 L202.66,282.84 L202.90,282.84 L203.14,282.84 L203.39,282.84 L203.63,282.84 L203.88,282.84 L204.12,282.84 L204.36,282.84 L204.61,282.84 L204.85,282.84 L205.09,282.84 L205.34,282.84 L205.58,282.84 L205.82,282.84 L206.07,282.84 L206.31,282.84 L206.56,282.84 L206.80,282.84 L207.04,282.84 L207.29,282.84 L207.53,282.84 L207.77,282.84 L208.02,282.84 L208.26,282.84 L208.50,282.84 L208.75,282.84 L208.99,282.84 L209.23,282.84 L209.48,282.84 L209.72,282.84 L209.97,282.84 L210.21,282.84 L210.45,282.84 L210.70,282.84 L210.94,282.84 L211.18,282.84 L211.43,282.84 L211.67,282.84 L211.91,282.84 L212.16,282.84 L212.40,282.84 L212.65,282.84 L212.89,282.84 L213.13,282.84 L213.38,282.84 L213.62,282.84 L213.86,282.84 L214.11,282.84 L214.35,282.84 L214.59,282.84 L214.84,282.84 L215.08,282.84 L215.33,282.84 L215.57,282.84 L215.81,282.84 L216.06,282.84 L216.30,282.84 L216.30,282.84 L216.46,287.94 L216.63,292.81 L216.79,297.47 L216.95,301.92 L217.11,306.18 L217.28,310.25 L217.44,314.14 L217.60,317.85 L217.77,321.41 L217.93,324.81 L218.09,328.06 L218.25,331.16 L218.42,334.13 L218.58,336.97 L218.74,339.69 L218.91,342.28 L219.07,344.76 L219.23,347.14 L219.39,349.40 L219.56,351.57 L219.72,353.65 L219.88,355.63 L220.05,357.52 L220.21,359.33 L220.37,361.07 L220.53,362.72 L220.70,364.31 L220.86,365.82 L221.02,367.27 L221.19,368.66 L221.35,369.98 L221.51,371.25 L221.67,372.46 L221.84,373.61 L222.00,374.72 L222.16,375.78 L222.33,376.79 L222.49,377.76 L222.65,378.69 L222.82,379.57 L222.98,380.42 L223.14,381.23 L223.30,382.00 L223.47,382.74 L223.63,383.45 L223.79,384.13 L223.96,384.78 L224.12,385.40 L224.28,385.99 L224.44,386.56 L224.61,387.10 L224.77,387.62 L224.93,388.12 L225.10,388.59 L225.26,389.05 L225.42,389.48 L225.58,389.90 L225.75,390.30 L225.91,390.68 L226.07,391.04 L226.24,391.39 L226.40,391.72 L226.56,392.04 L226.72,392.35 L226.89,392.64 L227.05,392.92 L227.21,393.19 L227.38,393.45 L227.54,393.69 L227.70,393.93 L227.86,394.15 L228.03,394.37 L228.19,394.57 L228.35,394.77 L228.52,394.96 L228.68,395.14 L228.84,395.31 L229.00,395.48 L229.17,395.64 L229.33,395.79 L229.49,395.94 L229.66,396.08 L229.82,396.21 L229.98,396.34 L230.14,396.46 L230.31,396.58 L230.47,396.69 L230.63,396.80 L230.80,396.90 L230.96,397.00 L231.12,397.10 L231.28,397.19 L231.45,397.28 L231.61,397.36 L231.77,397.44 L231.94,397.52 L232.10,397.59 L232.26,397.66 L232.42,397.73 L232.59,397.80 L232.75,397.86 L232.91,397.92 L233.08,397.98 L233.24,398.03 L233.40,398.09 L233.56,398.14 L233.73,398.19 L233.89,398.24 L234.05,398.28 L234.22,398.32 L234.38,398.37 L234.54,398.41 L234.71,398.45 L234.87,398.48 L235.03,398.52 L235.19,398.55 L235.36,398.59 L235.52,398.62 L235.68,398.65 L235.85,398.68 L236.01,398.71 L236.17,398.73 L236.33,398.76 L236.50,398.79 L236.66,398.81 L236.82,398.83 L236.99,398.86 L237.15,398.88 L237.31,398.90 L237.47,398.92 L237.64,398.94 L237.80,398.96 L237.96,398.98 L238.13,398.99 L238.29,399.01 L238.45,399.03 L238.61,399.04 L238.78,399.06 L238.94,399.07 L239.10,399.09 L239.27,399.10 L239.43,399.11 L239.59,399.13 L239.75,399.14 L239.92,399.15 L240.08,399.16 L240.24,399.18 L240.41,399.19 L240.57,399.20 L240.73,399.21 L240.89,399.22 L241.06,399.23 L241.22,399.24 L241.38,399.25 L241.55,399.26 L241.71,399.26 L241.87,399.27 L242.03,399.28 L242.20,399.29 L242.36,399.30 L242.52,399.30 L242.69,399.31 L242.85,399.32 L243.01,399.33 L243.17,399.33 L243.34,399.34 L243.50,399.35 L243.66,399.35 L243.83,399.36 L243.99,399.36 L244.15,399.37 L244.31,399.37 L244.48,399.38 L244.64,399.39 L244.80,399.39 L244.97,399.40 L245.13,399.40 L245.29,399.41 L245.45,399.41 L245.62,399.42 L245.78,399.42 L245.94,399.42 L246.11,399.43 L246.27,399.43 L246.43,399.44 L246.59,399.44 L246.76,399.45 L246.92,399.45 L247.08,399.45 L247.25,399.46 L247.41,399.46 L247.57,399.46 L247.74,399.47 L247.90,399.47 L248.06,399.47 L248.22,399.48 L248.39,399.48 L248.55,399.48 L248.71,399.49 L248.88,399.49 L249.04,399.49 L249.20,399.50 L249.36,399.50 L249.53,399.50 L249.69,399.51 L249.85,399.51 L250.02,399.51 L250.18,399.51 L250.34,399.52 L250.50,399.52 L250.67,399.52 L250.83,399.52 L250.99,399.53 L251.16,399.53 L251.32,399.53 L251.48,399.53 L251.64,399.54 L251.81,399.54 L251.97,399.54 L252.13,399.54 L252.30,399.55 L252.46,399.55 L252.62,399.55 L252.78,399.55 L252.95,399.55 L253.11,399.56 L253.27,399.56 L253.44,399.56 L253.60,399.56 L253.76,399.56 L253.92,399.57 L254.09,399.57 L254.25,399.57 L254.41,399.57 L254.58,399.57 L254.74,399.58 L254.90,399.58 L255.06,399.58 L255.23,399.58 L255.39,399.58 L255.55,399.58 L255.72,399.59 L255.88,399.59 L256.04,399.59 L256.20,399.59 L256.37,399.59 L256.53,399.59 L256.69,399.60 L256.86,399.60 L257.02,399.60 L257.18,399.60 L257.34,399.60 L257.51,399.60 L257.67,399.60 L257.83,399.61 L258.00,399.61 L258.16,399.61 L258.32,399.61 L258.48,399.61 L258.65,399.61 L258.81,399.61 L258.97,399.61 L259.14,399.62 L259.30,399.62 L259.46,399.62 L259.63,399.62 L259.79,399.62 L259.95,399.62 L260.11,399.62 L260.28,399.62 L260.44,399.63 L260.60,399.63 L260.77,399.63 L260.93,399.63 L261.09,399.63 L261.25,399.63 L261.42,399.63 L261.58,399.63 L261.74,399.63 L261.91,399.64 L262.07,399.64 L262.23,399.64 L262.39,399.64 L262.56,399.64 L262.72,399.64 L262.88,399.64 L263.05,399.64 L263.21,399.64 L263.37,399.64 L263.53,399.65 L263.70,399.65 L263.86,399.65 L264.02,399.65 L264.19,399.65 L264.35,399.65 L264.51,399.65 L264.67,399.65 L264.84,399.65 L265.00,399.65" fill="none" stroke="#e8141e" stroke-width="2.20" stroke-linejoin="round" stroke-linecap="butt" />
<path d="M118.61,400.63 L118.61,183.28 L118.61,183.28 L118.77,190.02 L118.94,196.30 L119.10,202.16 L119.26,207.62 L119.43,212.71 L119.59,217.46 L119.75,221.89 L119.92,226.01 L120.08,229.86 L120.25,233.45 L120.41,236.79 L120.57,239.91 L120.74,242.81 L120.90,245.52 L121.07,248.05 L121.23,250.40 L121.39,252.60 L121.56,254.65 L121.72,256.56 L121.88,258.34 L122.05,259.99 L122.21,261.54 L122.38,262.98 L122.54,264.33 L122.70,265.58 L122.87,266.75 L123.03,267.84 L123.20,268.85 L123.36,269.80 L123.52,270.68 L123.69,271.51 L123.85,272.27 L124.01,272.99 L124.18,273.66 L124.34,274.28 L124.51,274.86 L124.67,275.40 L124.83,275.90 L125.00,276.37 L125.16,276.81 L125.33,277.22 L125.49,277.60 L125.65,277.95 L125.82,278.28 L125.98,278.59 L126.15,278.88 L126.31,279.15 L126.47,279.40 L126.64,279.63 L126.80,279.85 L126.96,280.05 L127.13,280.24 L127.29,280.42 L127.46,280.58 L127.62,280.73 L127.78,280.88 L127.95,281.01 L128.11,281.13 L128.28,281.25 L128.44,281.36 L128.60,281.46 L128.77,281.55 L128.93,281.64 L129.09,281.72 L129.26,281.79 L129.42,281.87 L129.59,281.93 L129.75,281.99 L129.91,282.05 L130.08,282.10 L130.24,282.15 L130.41,282.20 L130.57,282.24 L130.73,282.28 L130.90,282.32 L131.06,282.36 L131.22,282.39 L131.39,282.42 L131.55,282.45 L131.72,282.47 L131.88,282.50 L132.04,282.52 L132.21,282.54 L132.37,282.56 L132.54,282.58 L132.70,282.60 L132.86,282.62 L133.03,282.63 L133.19,282.65 L133.35,282.66 L133.52,282.67 L133.68,282.68 L133.85,282.69 L134.01,282.70 L134.17,282.71 L134.34,282.72 L134.50,282.73 L134.67,282.74 L134.83,282.74 L134.99,282.75 L135.16,282.76 L135.32,282.76 L135.48,282.77 L135.65,282.77 L135.81,282.78 L135.98,282.78 L136.14,282.78 L136.30,282.79 L136.47,282.79 L136.63,282.80 L136.80,282.80 L136.96,282.80 L137.12,282.80 L137.29,282.81 L137.45,282.81 L137.61,282.81 L137.78,282.81 L137.94,282.81 L138.11,282.82 L138.27,282.82 L138.43,282.82 L138.60,282.82 L138.76,282.82 L138.93,282.82 L139.09,282.82 L139.25,282.83 L139.42,282.83 L139.58,282.83 L139.74,282.83 L139.91,282.83 L140.07,282.83 L140.24,282.83 L140.40,282.83 L140.56,282.83 L140.73,282.83 L140.89,282.83 L141.06,282.83 L141.22,282.83 L141.38,282.83 L141.55,282.83 L141.71,282.83 L141.87,282.84 L142.04,282.84 L142.20,282.84 L142.37,282.84 L142.53,282.84 L142.69,282.84 L142.86,282.84 L143.02,282.84 L143.19,282.84 L143.35,282.84 L143.51,282.84 L143.68,282.84 L143.84,282.84 L144.01,282.84 L144.17,282.84 L144.33,282.84 L144.50,282.84 L144.66,282.84 L144.82,282.84 L144.99,282.84 L145.15,282.84 L145.32,282.84 L145.48,282.84 L145.64,282.84 L145.81,282.84 L145.97,282.84 L146.14,282.84 L146.30,282.84 L146.46,282.84 L146.63,282.84 L146.79,282.84 L146.95,282.84 L147.12,282.84 L147.28,282.84 L147.45,282.84 L147.61,282.84 L147.77,282.84 L147.94,282.84 L148.10,282.84 L148.27,282.84 L148.43,282.84 L148.59,282.84 L148.76,282.84 L148.92,282.84 L149.08,282.84 L149.25,282.84 L149.41,282.84 L149.58,282.84 L149.74,282.84 L149.90,282.84 L150.07,282.84 L150.23,282.84 L150.40,282.84 L150.56,282.84 L150.72,282.84 L150.89,282.84 L151.05,282.84 L151.21,282.84 L151.38,282.84 L151.54,282.84 L151.71,282.84 L151.87,282.84 L152.03,282.84 L152.20,282.84 L152.36,282.84 L152.53,282.84 L152.69,282.84 L152.85,282.84 L153.02,282.84 L153.18,282.84 L153.34,282.84 L153.51,282.84 L153.67,282.84 L153.84,282.84 L154.00,282.84 L154.16,282.84 L154.33,282.84 L154.49,282.84 L154.66,282.84 L154.82,282.84 L154.98,282.84 L155.15,282.84 L155.31,282.84 L155.47,282.84 L155.64,282.84 L155.80,282.84 L155.97,282.84 L156.13,282.84 L156.29,282.84 L156.46,282.84 L156.62,282.84 L156.79,282.84 L156.95,282.84 L157.11,282.84 L157.28,282.84 L157.44,282.84 L157.60,282.84 L157.77,282.84 L157.93,282.84 L158.10,282.84 L158.26,282.84 L158.42,282.84 L158.59,282.84 L158.75,282.84 L158.92,282.84 L159.08,282.84 L159.24,282.84 L159.41,282.84 L159.57,282.84 L159.74,282.84 L159.90,282.84 L160.06,282.84 L160.23,282.84 L160.39,282.84 L160.55,282.84 L160.72,282.84 L160.88,282.84 L161.05,282.84 L161.21,282.84 L161.37,282.84 L161.54,282.84 L161.70,282.84 L161.87,282.84 L162.03,282.84 L162.19,282.84 L162.36,282.84 L162.52,282.84 L162.68,282.84 L162.85,282.84 L163.01,282.84 L163.18,282.84 L163.34,282.84 L163.50,282.84 L163.67,282.84 L163.83,282.84 L164.00,282.84 L164.16,282.84 L164.32,282.84 L164.49,282.84 L164.65,282.84 L164.81,282.84 L164.98,282.84 L165.14,282.84 L165.31,282.84 L165.47,282.84 L165.63,282.84 L165.80,282.84 L165.96,282.84 L166.13,282.84 L166.29,282.84 L166.45,282.84 L166.62,282.84 L166.78,282.84 L166.94,282.84 L167.11,282.84 L167.27,282.84 L167.44,282.84 L167.60,282.84 L167.60,282.84 L215.72,282.84 L215.72,404.64 L215.72,404.64 L215.74,404.55 L215.77,404.47 L215.80,404.38 L215.83,404.29 L215.86,404.21 L215.88,404.12 L215.91,404.04 L215.94,403.96 L215.97,403.87 L216.00,403.79 L216.03,403.71 L216.05,403.63 L216.08,403.55 L216.11,403.47 L216.14,403.39 L216.17,403.32 L216.19,403.24 L216.22,403.17 L216.25,403.10 L216.28,403.03 L216.31,402.96 L216.34,402.89 L216.36,402.82 L216.39,402.76 L216.42,402.70 L216.45,402.63 L216.48,402.58 L216.50,402.52 L216.53,402.46 L216.56,402.41 L216.59,402.36 L216.62,402.31 L216.65,402.26 L216.67,402.21 L216.70,402.17 L216.73,402.13 L216.76,402.09 L216.79,402.06 L216.81,402.02 L216.84,401.99 L216.87,401.95 L216.90,401.92 L216.93,401.89 L216.96,401.85 L216.98,401.82 L217.01,401.79 L217.04,401.76 L217.07,401.73 L217.10,401.70 L217.12,401.67 L217.15,401.64 L217.18,401.61 L217.21,401.58 L217.24,401.55 L217.27,401.52 L217.29,401.49 L217.32,401.47 L217.35,401.44 L217.38,401.41 L217.41,401.39 L217.43,401.36 L217.46,401.34 L217.49,401.31 L217.52,401.29 L217.55,401.27 L217.58,401.24 L217.60,401.22 L217.63,401.20 L217.66,401.18 L217.69,401.16 L217.72,401.14 L217.74,401.12 L217.77,401.10 L217.80,401.09 L217.83,401.07 L217.86,401.05 L217.89,401.04 L217.91,401.02 L217.94,401.01 L217.97,400.99 L218.00,400.98 L218.03,400.97 L218.05,400.95 L218.08,400.94 L218.11,400.93 L218.14,400.92 L218.17,400.91 L218.20,400.90 L218.22,400.90 L218.25,400.89 L218.28,400.88 L218.31,400.88 L218.34,400.87 L218.36,400.86 L218.39,400.86 L218.42,400.85 L218.45,400.85 L218.48,400.84 L218.51,400.83 L218.53,400.83 L218.56,400.82 L218.59,400.82 L218.62,400.81 L218.65,400.80 L218.67,400.80 L218.70,400.79 L218.73,400.79 L218.76,400.78 L218.79,400.78 L218.82,400.77 L218.84,400.77 L218.87,400.76 L218.90,400.76 L218.93,400.75 L218.96,400.75 L218.98,400.74 L219.01,400.74 L219.04,400.73 L219.07,400.73 L219.10,400.72 L219.13,400.72 L219.15,400.71 L219.18,400.71 L219.21,400.71 L219.24,400.70 L219.27,400.70 L219.29,400.69 L219.32,400.69 L219.35,400.69 L219.38,400.68 L219.41,400.68 L219.44,400.68 L219.46,400.67 L219.49,400.67 L219.52,400.67 L219.55,400.67 L219.58,400.66 L219.60,400.66 L219.63,400.66 L219.66,400.66 L219.69,400.65 L219.72,400.65 L219.75,400.65 L219.77,400.65 L219.80,400.64 L219.83,400.64 L219.86,400.64 L219.89,400.64 L219.91,400.64 L219.94,400.64 L219.97,400.64 L220.00,400.64 L220.03,400.63 L220.06,400.63 L220.08,400.63 L220.11,400.63 L220.14,400.63 L220.17,400.63 L220.20,400.63" fill="none" stroke="#1515e6" stroke-width="2.40" stroke-linejoin="round" stroke-linecap="butt" />
<path d="M216.30,282.84 L216.46,287.94 L216.63,292.81 L216.79,297.47 L216.95,301.92 L217.11,306.18 L217.28,310.25 L217.44,314.14 L217.60,317.85 L217.77,321.41 L217.93,324.81 L218.09,328.06 L218.25,331.16 L218.42,334.13 L218.58,336.97 L218.74,339.69 L218.91,342.28 L219.07,344.76 L219.23,347.14 L219.39,349.40 L219.56,351.57 L219.72,353.65 L219.88,355.63 L220.05,357.52 L220.21,359.33 L220.37,361.07 L220.53,362.72 L220.70,364.31 L220.86,365.82 L221.02,367.27 L221.19,368.66 L221.35,369.98 L221.51,371.25 L221.67,372.46 L221.84,373.61 L222.00,374.72 L222.16,375.78 L222.33,376.79 L222.49,377.76 L222.65,378.69 L222.82,379.57 L222.98,380.42 L223.14,381.23 L223.30,382.00 L223.47,382.74 L223.63,383.45 L223.79,384.13 L223.96,384.78 L224.12,385.40 L224.28,385.99 L224.44,386.56 L224.61,387.10 L224.77,387.62 L224.93,388.12 L225.10,388.59 L225.26,389.05 L225.42,389.48 L225.58,389.90 L225.75,390.30 L225.91,390.68 L226.07,391.04 L226.24,391.39 L226.40,391.72 L226.56,392.04 L226.72,392.35 L226.89,392.64 L227.05,392.92 L227.21,393.19 L227.38,393.45 L227.54,393.69 L227.70,393.93 L227.86,394.15 L228.03,394.37 L228.19,394.57 L228.35,394.77 L228.52,394.96 L228.68,395.14 L228.84,395.31 L229.00,395.48 L229.17,395.64 L229.33,395.79 L229.49,395.94 L229.66,396.08 L229.82,396.21 L229.98,396.34 L230.14,396.46 L230.31,396.58 L230.47,396.69 L230.63,396.80 L230.80,396.90 L230.96,397.00 L231.12,397.10 L231.28,397.19 L231.45,397.28 L231.61,397.36 L231.77,397.44 L231.94,397.52 L232.10,397.59 L232.26,397.66 L232.42,397.73 L232.59,397.80 L232.75,397.86 L232.91,397.92 L233.08,397.98 L233.24,398.03 L233.40,398.09 L233.56,398.14 L233.73,398.19 L233.89,398.24 L234.05,398.28 L234.22,398.32 L234.38,398.37 L234.54,398.41 L234.71,398.45 L234.87,398.48 L235.03,398.52 L235.19,398.55 L235.36,398.59 L235.52,398.62 L235.68,398.65 L235.85,398.68 L236.01,398.71 L236.17,398.73 L236.33,398.76 L236.50,398.79 L236.66,398.81 L236.82,398.83 L236.99,398.86 L237.15,398.88 L237.31,398.90 L237.47,398.92 L237.64,398.94 L237.80,398.96 L237.96,398.98 L238.13,398.99 L238.29,399.01 L238.45,399.03 L238.61,399.04 L238.78,399.06 L238.94,399.07 L239.10,399.09 L239.27,399.10 L239.43,399.11 L239.59,399.13 L239.75,399.14 L239.92,399.15 L240.08,399.16 L240.24,399.18 L240.41,399.19 L240.57,399.20 L240.73,399.21 L240.89,399.22 L241.06,399.23 L241.22,399.24 L241.38,399.25 L241.55,399.26 L241.71,399.26 L241.87,399.27 L242.03,399.28 L242.20,399.29 L242.36,399.30 L242.52,399.30 L242.69,399.31 L242.85,399.32 L243.01,399.33 L243.17,399.33 L243.34,399.34 L243.50,399.35 L243.66,399.35 L243.83,399.36 L243.99,399.36 L244.15,399.37 L244.31,399.37 L244.48,399.38 L244.64,399.39 L244.80,399.39 L244.97,399.40 L245.13,399.40 L245.29,399.41 L245.45,399.41 L245.62,399.42 L245.78,399.42 L245.94,399.42 L246.11,399.43 L246.27,399.43 L246.43,399.44 L246.59,399.44 L246.76,399.45 L246.92,399.45 L247.08,399.45 L247.25,399.46 L247.41,399.46 L247.57,399.46 L247.74,399.47 L247.90,399.47 L248.06,399.47 L248.22,399.48 L248.39,399.48 L248.55,399.48 L248.71,399.49 L248.88,399.49 L249.04,399.49 L249.20,399.50 L249.36,399.50 L249.53,399.50 L249.69,399.51 L249.85,399.51 L250.02,399.51 L250.18,399.51 L250.34,399.52 L250.50,399.52 L250.67,399.52 L250.83,399.52 L250.99,399.53 L251.16,399.53 L251.32,399.53 L251.48,399.53 L251.64,399.54 L251.81,399.54 L251.97,399.54 L252.13,399.54 L252.30,399.55 L252.46,399.55 L252.62,399.55 L252.78,399.55 L252.95,399.55 L253.11,399.56 L253.27,399.56 L253.44,399.56 L253.60,399.56 L253.76,399.56 L253.92,399.57 L254.09,399.57 L254.25,399.57 L254.41,399.57 L254.58,399.57 L254.74,399.58 L254.90,399.58 L255.06,399.58 L255.23,399.58 L255.39,399.58 L255.55,399.58 L255.72,399.59 L255.88,399.59 L256.04,399.59 L256.20,399.59 L256.37,399.59 L256.53,399.59 L256.69,399.60 L256.86,399.60 L257.02,399.60 L257.18,399.60 L257.34,399.60 L257.51,399.60 L257.67,399.60 L257.83,399.61 L258.00,399.61 L258.16,399.61 L258.32,399.61 L258.48,399.61 L258.65,399.61 L258.81,399.61 L258.97,399.61 L259.14,399.62 L259.30,399.62 L259.46,399.62 L259.63,399.62 L259.79,399.62 L259.95,399.62 L260.11,399.62 L260.28,399.62 L260.44,399.63 L260.60,399.63 L260.77,399.63 L260.93,399.63 L261.09,399.63 L261.25,399.63 L261.42,399.63 L261.58,399.63 L261.74,399.63 L261.91,399.64 L262.07,399.64 L262.23,399.64 L262.39,399.64 L262.56,399.64 L262.72,399.64 L262.88,399.64 L263.05,399.64 L263.21,399.64 L263.37,399.64 L263.53,399.65 L263.70,399.65 L263.86,399.65 L264.02,399.65 L264.19,399.65 L264.35,399.65 L264.51,399.65 L264.67,399.65 L264.84,399.65 L265.00,399.65" fill="none" stroke="#e8141e" stroke-width="2.00" stroke-linejoin="round" stroke-linecap="butt" />
<path d="M118.90,400.63 L119.09,400.63 L119.17,396.64 L119.24,392.78 L119.31,389.06 L119.38,385.46 L119.45,381.98 L119.52,378.62 L119.59,375.37 L119.66,372.23 L119.73,369.20 L119.80,366.28 L119.87,363.45 L119.94,360.72 L120.01,358.08 L120.08,355.53 L120.15,353.06 L120.22,350.68 L120.29,348.38 L120.36,346.16 L120.43,344.02 L120.51,341.94 L120.58,339.94 L120.65,338.00 L120.72,336.13 L120.79,334.33 L120.86,332.58 L120.93,330.90 L121.00,329.27 L121.07,327.69 L121.14,326.17" fill="none" stroke="#e8141e" stroke-width="1.80" stroke-linejoin="round" stroke-linecap="butt" />
<path d="M218.25,400.63 L265.00,400.63" fill="none" stroke="#000" stroke-width="2.20" stroke-linejoin="round" stroke-linecap="butt" />
<path d="M70.20,404.90 L118.90,404.90 L118.90,404.90 L119.51,407.64 L120.13,408.77 L120.74,409.27 L121.35,409.61 L121.96,409.79 L122.58,409.80 L123.19,409.69 L123.80,409.48 L124.41,409.19 L125.03,408.86 L125.64,408.49 L126.25,408.13 L126.86,407.78 L127.48,407.48 L128.09,407.25 L128.70,407.06 L129.31,406.88 L129.93,406.71 L130.54,406.54 L131.15,406.38 L131.76,406.22 L132.38,406.08 L132.99,405.94 L133.60,405.82 L134.21,405.70 L134.83,405.60 L135.44,405.52 L136.05,405.45 L136.66,405.40 L137.28,405.35 L137.89,405.30 L138.50,405.26 L139.12,405.22 L139.73,405.18 L140.34,405.14 L140.95,405.11 L141.57,405.08 L142.18,405.06 L142.79,405.05 L143.40,405.03 L144.02,405.03 L144.63,405.03 L145.24,405.03 L145.85,405.03 L146.47,405.03 L147.08,405.03 L147.69,405.03 L148.30,405.03 L148.92,405.03 L149.53,405.03 L150.14,405.03 L150.75,405.03 L151.37,405.03 L151.98,405.03 L152.59,405.03 L153.20,405.03 L153.82,405.03 L154.43,405.03 L155.04,405.03 L155.65,405.03 L156.27,405.03 L156.88,405.03 L157.49,405.03 L158.11,405.03 L158.72,405.03 L159.33,405.03 L159.94,405.03 L160.56,405.03 L161.17,405.03 L161.78,405.03 L162.39,405.03 L163.01,405.03 L163.62,405.03 L164.23,405.03 L164.84,405.03 L165.46,405.03 L166.07,405.03 L166.68,405.03 L167.29,405.03 L167.91,405.03 L168.52,405.03 L169.13,405.03 L169.74,405.03 L170.36,405.03 L170.97,405.03 L171.58,405.03 L172.19,405.03 L172.81,405.03 L173.42,405.03 L174.03,405.03 L174.64,405.03 L175.26,405.03 L175.87,405.03 L176.48,405.03 L177.09,405.03 L177.71,405.03 L178.32,405.03 L178.93,405.03 L179.55,405.03 L180.16,405.03 L180.77,405.03 L181.38,405.03 L182.00,405.03 L182.61,405.03 L183.22,405.03 L183.83,405.03 L184.45,405.03 L185.06,405.03 L185.67,405.03 L186.28,405.03 L186.90,405.03 L187.51,405.03 L188.12,405.03 L188.73,405.03 L189.35,405.03 L189.96,405.03 L190.57,405.03 L191.18,405.03 L191.80,405.03 L192.41,405.03 L193.02,405.03 L193.63,405.03 L194.25,405.03 L194.86,405.03 L195.47,405.03 L196.08,405.03 L196.70,405.03 L197.31,405.03 L197.92,405.03 L198.54,405.03 L199.15,405.03 L199.76,405.03 L200.37,405.03 L200.99,405.03 L201.60,405.03 L202.21,405.03 L202.82,405.03 L203.44,405.03 L204.05,405.03 L204.66,405.03 L205.27,405.03 L205.89,405.03 L206.50,405.03 L207.11,405.03 L207.72,405.03 L208.34,405.03 L208.95,405.03 L209.56,405.03 L210.17,405.03 L210.79,405.03 L211.40,405.03 L212.01,405.03 L212.62,405.03 L213.24,405.03 L213.85,405.03 L214.46,405.03 L215.07,405.03 L215.69,405.03 L216.30,405.03 L216.30,405.03 L216.61,404.38 L216.91,403.77 L217.22,403.21 L217.53,402.71 L217.83,402.27 L218.14,401.91 L218.44,401.61 L218.75,401.32 L219.06,401.05 L219.36,400.82 L219.67,400.64 L219.98,400.53 L220.28,400.50 L220.59,400.51 L220.89,400.54 L221.20,400.57 L221.51,400.61 L221.81,400.66 L222.12,400.72 L222.43,400.79 L222.73,400.87 L223.04,400.95 L223.34,401.03 L223.65,401.12 L223.96,401.21 L224.26,401.31 L224.57,401.40 L224.88,401.50 L225.18,401.60 L225.49,401.69 L225.79,401.79 L226.10,401.88 L226.41,401.96 L226.71,402.04 L227.02,402.12 L227.33,402.19 L227.63,402.25 L227.94,402.31 L228.25,402.35 L228.55,402.40 L228.86,402.45 L229.16,402.50 L229.47,402.54 L229.78,402.59 L230.08,402.63 L230.39,402.68 L230.70,402.72 L231.00,402.76 L231.31,402.81 L231.61,402.85 L231.92,402.89 L232.23,402.93 L232.53,402.97 L232.84,403.01 L233.15,403.05 L233.45,403.09 L233.76,403.13 L234.06,403.17 L234.37,403.20 L234.68,403.24 L234.98,403.28 L235.29,403.31 L235.60,403.34 L235.90,403.38 L236.21,403.41 L236.52,403.44 L236.82,403.47 L237.13,403.50 L237.43,403.53 L237.74,403.56 L238.05,403.59 L238.35,403.62 L238.66,403.65 L238.97,403.67 L239.27,403.70 L239.58,403.72 L239.88,403.75 L240.19,403.77 L240.50,403.79 L240.80,403.81 L241.11,403.83 L241.42,403.85 L241.72,403.87 L242.03,403.89 L242.33,403.91 L242.64,403.93 L242.95,403.94 L243.25,403.96 L243.56,403.98 L243.87,404.00 L244.17,404.02 L244.48,404.03 L244.78,404.05 L245.09,404.07 L245.40,404.09 L245.70,404.11 L246.01,404.12 L246.32,404.14 L246.62,404.16 L246.93,404.17 L247.24,404.19 L247.54,404.21 L247.85,404.23 L248.15,404.24 L248.46,404.26 L248.77,404.27 L249.07,404.29 L249.38,404.31 L249.69,404.32 L249.99,404.34 L250.30,404.35 L250.60,404.37 L250.91,404.38 L251.22,404.40 L251.52,404.41 L251.83,404.43 L252.14,404.44 L252.44,404.46 L252.75,404.47 L253.05,404.48 L253.36,404.50 L253.67,404.51 L253.97,404.52 L254.28,404.53 L254.59,404.55 L254.89,404.56 L255.20,404.57 L255.51,404.58 L255.81,404.59 L256.12,404.60 L256.42,404.61 L256.73,404.62 L257.04,404.63 L257.34,404.64 L257.65,404.65 L257.96,404.66 L258.26,404.67 L258.57,404.68 L258.87,404.69 L259.18,404.70 L259.49,404.70 L259.79,404.71 L260.10,404.72 L260.41,404.72 L260.71,404.73 L261.02,404.73 L261.32,404.74 L261.63,404.74 L261.94,404.75 L262.24,404.75 L262.55,404.76 L262.86,404.76 L263.16,404.76 L263.47,404.76 L263.77,404.77 L264.08,404.77 L264.39,404.77 L264.69,404.77 L265.00,404.77" fill="none" stroke="#f0a020" stroke-width="1.60" stroke-linejoin="round" stroke-linecap="butt" />
<text x="62.2" y="183.4" font-family="Liberation Sans, sans-serif" font-size="13.5" text-anchor="end" fill="#151515" stroke="#151515" stroke-width="0.3">90</text>
<text x="62.2" y="210.5" font-family="Liberation Sans, sans-serif" font-size="13.5" text-anchor="end" fill="#151515" stroke="#151515" stroke-width="0.3">80</text>
<text x="62.2" y="236.3" font-family="Liberation Sans, sans-serif" font-size="13.5" text-anchor="end" fill="#151515" stroke="#151515" stroke-width="0.3">70</text>
<text x="62.2" y="262.2" font-family="Liberation Sans, sans-serif" font-size="13.5" text-anchor="end" fill="#151515" stroke="#151515" stroke-width="0.3">60</text>
<text x="62.2" y="288.0" font-family="Liberation Sans, sans-serif" font-size="13.5" text-anchor="end" fill="#151515" stroke="#151515" stroke-width="0.3">50</text>
<text x="62.2" y="313.9" font-family="Liberation Sans, sans-serif" font-size="13.5" text-anchor="end" fill="#151515" stroke="#151515" stroke-width="0.3">40</text>
<text x="62.2" y="339.8" font-family="Liberation Sans, sans-serif" font-size="13.5" text-anchor="end" fill="#151515" stroke="#151515" stroke-width="0.3">30</text>
<text x="62.2" y="365.6" font-family="Liberation Sans, sans-serif" font-size="13.5" text-anchor="end" fill="#151515" stroke="#151515" stroke-width="0.3">20</text>
<text x="62.2" y="391.5" font-family="Liberation Sans, sans-serif" font-size="13.5" text-anchor="end" fill="#151515" stroke="#151515" stroke-width="0.3">10</text>
<text x="62.2" y="417.3" font-family="Liberation Sans, sans-serif" font-size="13.5" text-anchor="end" fill="#151515" stroke="#151515" stroke-width="0.3">0</text>
<text x="62.2" y="443.2" font-family="Liberation Sans, sans-serif" font-size="13.5" text-anchor="end" fill="#151515" stroke="#151515" stroke-width="0.3">-10</text>
<text x="72.6" y="453.5" font-family="Liberation Sans, sans-serif" font-size="13.5" text-anchor="middle" fill="#151515" stroke="#151515" stroke-width="0.3">0</text>
<text x="119.9" y="453.5" font-family="Liberation Sans, sans-serif" font-size="13.5" text-anchor="middle" fill="#151515" stroke="#151515" stroke-width="0.3">50</text>
<text x="167.9" y="453.5" font-family="Liberation Sans, sans-serif" font-size="13.5" text-anchor="middle" fill="#151515" stroke="#151515" stroke-width="0.3">100</text>
<text x="216.5" y="453.5" font-family="Liberation Sans, sans-serif" font-size="13.5" text-anchor="middle" fill="#151515" stroke="#151515" stroke-width="0.3">150</text>
<text x="264.3" y="453.5" font-family="Liberation Sans, sans-serif" font-size="13.5" text-anchor="middle" fill="#151515" stroke="#151515" stroke-width="0.3">200</text>
<text x="171.3" y="476.2" font-family="Liberation Serif, serif" font-size="20.5" text-anchor="middle" textLength="94.0" lengthAdjust="spacingAndGlyphs" fill="#151515">Time (min)</text>
<text x="18.6" y="180.2" font-family="Liberation Sans, sans-serif" font-size="16.5" font-weight="bold" textLength="17.2" lengthAdjust="spacingAndGlyphs" fill="#151515">b1</text>
<g transform="translate(29.60,399.00) rotate(-90)"><text x="0.00" y="0.00" font-family="Liberation Serif, serif" font-size="19.0" textLength="32.4" lengthAdjust="spacingAndGlyphs" fill="#151515">Flux</text><text x="41.00" y="0.00" font-family="Liberation Serif, serif" font-size="19.0" textLength="28.0" lengthAdjust="spacingAndGlyphs" fill="#151515">(10</text><text x="69.60" y="-6.80" font-family="Liberation Serif, serif" font-size="13.0" textLength="24.2" lengthAdjust="spacingAndGlyphs" fill="#151515">−16</text><text x="100.70" y="0.00" font-family="Liberation Serif, serif" font-size="19.0" textLength="82.3" lengthAdjust="spacingAndGlyphs" fill="#151515">mmol/ms)</text></g>
<line x1="360.2" y1="278.5" x2="549.0" y2="278.5" stroke="#b6f2f4" stroke-width="1"/>
<line x1="360.2" y1="253.5" x2="549.0" y2="253.5" stroke="#b6f2f4" stroke-width="1"/>
<line x1="360.2" y1="228.5" x2="549.0" y2="228.5" stroke="#b6f2f4" stroke-width="1"/>
<line x1="360.2" y1="203.5" x2="549.0" y2="203.5" stroke="#b6f2f4" stroke-width="1"/>
<line x1="360.2" y1="178.5" x2="549.0" y2="178.5" stroke="#b6f2f4" stroke-width="1"/>
<line x1="407.5" y1="178.0" x2="407.5" y2="303.6" stroke="#b6f2f4" stroke-width="1"/>
<line x1="454.5" y1="178.0" x2="454.5" y2="303.6" stroke="#b6f2f4" stroke-width="1"/>
<line x1="501.5" y1="178.0" x2="501.5" y2="303.6" stroke="#b6f2f4" stroke-width="1"/>
<line x1="548.5" y1="178.0" x2="548.5" y2="303.6" stroke="#b6f2f4" stroke-width="1"/>
<line x1="360.2" y1="178.0" x2="360.2" y2="304.3" stroke="#c0c0c0" stroke-width="1.3"/>
<line x1="360.2" y1="303.6" x2="549.0" y2="303.6" stroke="#c0c0c0" stroke-width="1.2"/>
<path d="M360.20,266.13 L548.00,266.13" fill="none" stroke="#5a5af0" stroke-width="1.80" stroke-linejoin="round" stroke-linecap="butt" />
<path d="M360.20,236.90 L407.15,236.90 L407.15,236.90 L407.74,236.12 L408.33,235.33 L408.93,234.54 L409.52,233.75 L410.11,232.96 L410.70,232.17 L411.29,231.38 L411.88,230.60 L412.48,229.80 L413.07,228.96 L413.66,228.13 L414.25,227.40 L414.84,226.84 L415.43,226.37 L416.03,225.94 L416.62,225.56 L417.21,225.22 L417.80,224.94 L418.39,224.72 L418.98,224.57 L419.58,224.44 L420.17,224.33 L420.76,224.23 L421.35,224.15 L421.94,224.07 L422.54,224.00 L423.13,223.92 L423.72,223.85 L424.31,223.78 L424.90,223.71 L425.49,223.64 L426.09,223.58 L426.68,223.52 L427.27,223.47 L427.86,223.43 L428.45,223.39 L429.04,223.36 L429.64,223.32 L430.23,223.29 L430.82,223.26 L431.41,223.23 L432.00,223.20 L432.60,223.17 L433.19,223.14 L433.78,223.11 L434.37,223.09 L434.96,223.06 L435.55,223.04 L436.15,223.02 L436.74,222.99 L437.33,222.97 L437.92,222.95 L438.51,222.93 L439.10,222.91 L439.70,222.89 L440.29,222.87 L440.88,222.85 L441.47,222.83 L442.06,222.81 L442.65,222.79 L443.25,222.78 L443.84,222.76 L444.43,222.74 L445.02,222.72 L445.61,222.70 L446.21,222.69 L446.80,222.67 L447.39,222.65 L447.98,222.63 L448.57,222.61 L449.16,222.59 L449.76,222.57 L450.35,222.55 L450.94,222.53 L451.53,222.51 L452.12,222.49 L452.71,222.47 L453.31,222.45 L453.90,222.42 L454.49,222.40 L455.08,222.37 L455.67,222.35 L456.27,222.33 L456.86,222.30 L457.45,222.28 L458.04,222.25 L458.63,222.22 L459.22,222.20 L459.82,222.17 L460.41,222.15 L461.00,222.12 L461.59,222.09 L462.18,222.07 L462.77,222.04 L463.37,222.01 L463.96,221.99 L464.55,221.96 L465.14,221.93 L465.73,221.91 L466.32,221.88 L466.92,221.86 L467.51,221.83 L468.10,221.80 L468.69,221.78 L469.28,221.75 L469.88,221.73 L470.47,221.70 L471.06,221.67 L471.65,221.65 L472.24,221.62 L472.83,221.60 L473.43,221.58 L474.02,221.55 L474.61,221.53 L475.20,221.51 L475.79,221.48 L476.38,221.46 L476.98,221.44 L477.57,221.42 L478.16,221.39 L478.75,221.37 L479.34,221.35 L479.93,221.33 L480.53,221.31 L481.12,221.29 L481.71,221.27 L482.30,221.25 L482.89,221.23 L483.49,221.21 L484.08,221.19 L484.67,221.17 L485.26,221.15 L485.85,221.13 L486.44,221.11 L487.04,221.09 L487.63,221.07 L488.22,221.05 L488.81,221.03 L489.40,221.01 L489.99,220.99 L490.59,220.97 L491.18,220.96 L491.77,220.94 L492.36,220.92 L492.95,220.90 L493.55,220.88 L494.14,220.87 L494.73,220.85 L495.32,220.83 L495.91,220.81 L496.50,220.80 L497.10,220.78 L497.69,220.76 L498.28,220.75 L498.87,220.73 L499.46,220.71 L500.05,220.70 L500.65,220.68 L501.24,220.67 L501.24,220.67 L501.53,220.83 L501.83,221.01 L502.12,221.20 L502.41,221.40 L502.71,221.61 L503.00,221.83 L503.30,222.06 L503.59,222.32 L503.88,222.61 L504.18,222.90 L504.47,223.21 L504.77,223.52 L505.06,223.83 L505.36,224.13 L505.65,224.41 L505.94,224.67 L506.24,224.92 L506.53,225.17 L506.83,225.41 L507.12,225.64 L507.41,225.87 L507.71,226.10 L508.00,226.32 L508.30,226.53 L508.59,226.74 L508.88,226.95 L509.18,227.14 L509.47,227.33 L509.77,227.52 L510.06,227.70 L510.35,227.88 L510.65,228.06 L510.94,228.23 L511.24,228.40 L511.53,228.57 L511.83,228.73 L512.12,228.89 L512.41,229.05 L512.71,229.20 L513.00,229.34 L513.30,229.48 L513.59,229.61 L513.88,229.74 L514.18,229.86 L514.47,229.98 L514.77,230.09 L515.06,230.21 L515.35,230.31 L515.65,230.42 L515.94,230.52 L516.24,230.62 L516.53,230.72 L516.83,230.82 L517.12,230.91 L517.41,231.00 L517.71,231.09 L518.00,231.17 L518.30,231.26 L518.59,231.33 L518.88,231.41 L519.18,231.48 L519.47,231.55 L519.77,231.62 L520.06,231.69 L520.35,231.75 L520.65,231.81 L520.94,231.88 L521.24,231.94 L521.53,232.00 L521.82,232.06 L522.12,232.12 L522.41,232.18 L522.71,232.23 L523.00,232.29 L523.30,232.34 L523.59,232.39 L523.88,232.45 L524.18,232.49 L524.47,232.54 L524.77,232.59 L525.06,232.63 L525.35,232.67 L525.65,232.71 L525.94,232.75 L526.24,232.79 L526.53,232.82 L526.82,232.85 L527.12,232.88 L527.41,232.90 L527.71,232.93 L528.00,232.95 L528.30,232.97 L528.59,232.99 L528.88,233.01 L529.18,233.03 L529.47,233.05 L529.77,233.07 L530.06,233.08 L530.35,233.10 L530.65,233.12 L530.94,233.13 L531.24,233.14 L531.53,233.16 L531.82,233.17 L532.12,233.19 L532.41,233.20 L532.71,233.21 L533.00,233.22 L533.29,233.24 L533.59,233.25 L533.88,233.26 L534.18,233.28 L534.47,233.29 L534.77,233.30 L535.06,233.32 L535.35,233.33 L535.65,233.35 L535.94,233.36 L536.24,233.38 L536.53,233.39 L536.82,233.41 L537.12,233.43 L537.41,233.45 L537.71,233.46 L538.00,233.48 L538.29,233.50 L538.59,233.52 L538.88,233.54 L539.18,233.56 L539.47,233.57 L539.77,233.59 L540.06,233.61 L540.35,233.63 L540.65,233.65 L540.94,233.67 L541.24,233.69 L541.53,233.71 L541.82,233.72 L542.12,233.74 L542.41,233.76 L542.71,233.78 L543.00,233.80 L543.29,233.82 L543.59,233.84 L543.88,233.86 L544.18,233.88 L544.47,233.90 L544.76,233.92 L545.06,233.94 L545.35,233.97 L545.65,233.99 L545.94,234.01 L546.24,234.03 L546.53,234.05 L546.82,234.07 L547.12,234.09 L547.41,234.11 L547.71,234.13 L548.00,234.16" fill="none" stroke="#e84848" stroke-width="1.40" stroke-linejoin="round" stroke-linecap="butt" />
<path d="M360.20,185.69 L406.49,185.69 L406.49,185.69 L407.08,189.77 L407.68,200.20 L408.27,214.04 L408.86,227.25 L409.45,240.44 L410.04,249.66 L410.63,255.18 L411.22,258.67 L411.81,259.94 L412.40,260.70 L413.00,261.22 L413.59,261.54 L414.18,261.69 L414.77,261.80 L415.36,261.89 L415.95,261.97 L416.54,262.03 L417.13,262.08 L417.72,262.11 L418.32,262.13 L418.91,262.13 L419.50,262.13 L420.09,262.13 L420.68,262.13 L421.27,262.13 L421.86,262.12 L422.45,262.12 L423.05,262.12 L423.64,262.11 L424.23,262.11 L424.82,262.10 L425.41,262.10 L426.00,262.09 L426.59,262.09 L427.18,262.08 L427.77,262.07 L428.37,262.06 L428.96,262.06 L429.55,262.05 L430.14,262.04 L430.73,262.03 L431.32,262.02 L431.91,262.01 L432.50,262.00 L433.09,261.99 L433.69,261.98 L434.28,261.97 L434.87,261.96 L435.46,261.95 L436.05,261.94 L436.64,261.93 L437.23,261.92 L437.82,261.91 L438.42,261.90 L439.01,261.89 L439.60,261.88 L440.19,261.87 L440.78,261.86 L441.37,261.84 L441.96,261.83 L442.55,261.82 L443.14,261.81 L443.74,261.80 L444.33,261.79 L444.92,261.78 L445.51,261.77 L446.10,261.76 L446.69,261.75 L447.28,261.74 L447.87,261.73 L448.46,261.72 L449.06,261.71 L449.65,261.70 L450.24,261.69 L450.83,261.68 L451.42,261.67 L452.01,261.66 L452.60,261.65 L453.19,261.65 L453.79,261.64 L454.38,261.63 L454.97,261.62 L455.56,261.62 L456.15,261.61 L456.74,261.60 L457.33,261.59 L457.92,261.59 L458.51,261.58 L459.11,261.57 L459.70,261.57 L460.29,261.56 L460.88,261.55 L461.47,261.54 L462.06,261.54 L462.65,261.53 L463.24,261.52 L463.83,261.52 L464.43,261.51 L465.02,261.50 L465.61,261.50 L466.20,261.49 L466.79,261.48 L467.38,261.48 L467.97,261.47 L468.56,261.46 L469.16,261.45 L469.75,261.45 L470.34,261.44 L470.93,261.43 L471.52,261.43 L472.11,261.42 L472.70,261.41 L473.29,261.41 L473.88,261.40 L474.48,261.40 L475.07,261.39 L475.66,261.38 L476.25,261.38 L476.84,261.37 L477.43,261.36 L478.02,261.36 L478.61,261.35 L479.20,261.34 L479.80,261.34 L480.39,261.33 L480.98,261.32 L481.57,261.32 L482.16,261.31 L482.75,261.31 L483.34,261.30 L483.93,261.29 L484.53,261.29 L485.12,261.28 L485.71,261.28 L486.30,261.27 L486.89,261.26 L487.48,261.26 L488.07,261.25 L488.66,261.25 L489.25,261.24 L489.85,261.23 L490.44,261.23 L491.03,261.22 L491.62,261.22 L492.21,261.21 L492.80,261.21 L493.39,261.20 L493.98,261.19 L494.58,261.19 L495.17,261.18 L495.76,261.18 L496.35,261.17 L496.94,261.17 L497.53,261.16 L498.12,261.16 L498.71,261.15 L499.30,261.14 L499.90,261.14 L500.49,261.13 L500.49,261.13 L500.79,258.68 L501.08,255.06 L501.38,250.38 L501.68,243.57 L501.98,236.33 L502.28,230.16 L502.58,224.17 L502.88,218.82 L503.18,214.70 L503.47,211.35 L503.77,208.39 L504.07,205.83 L504.37,203.67 L504.67,201.90 L504.97,200.37 L505.27,198.98 L505.57,197.74 L505.87,196.62 L506.16,195.62 L506.46,194.74 L506.76,193.98 L507.06,193.28 L507.36,192.63 L507.66,192.03 L507.96,191.47 L508.26,190.95 L508.55,190.48 L508.85,190.05 L509.15,189.67 L509.45,189.33 L509.75,189.04 L510.05,188.77 L510.35,188.51 L510.65,188.26 L510.95,188.02 L511.24,187.80 L511.54,187.60 L511.84,187.41 L512.14,187.23 L512.44,187.08 L512.74,186.94 L513.04,186.82 L513.34,186.72 L513.63,186.64 L513.93,186.57 L514.23,186.49 L514.53,186.43 L514.83,186.36 L515.13,186.30 L515.43,186.24 L515.73,186.19 L516.03,186.14 L516.32,186.10 L516.62,186.06 L516.92,186.03 L517.22,186.00 L517.52,185.97 L517.82,185.95 L518.12,185.94 L518.42,185.92 L518.72,185.91 L519.01,185.89 L519.31,185.88 L519.61,185.87 L519.91,185.85 L520.21,185.84 L520.51,185.83 L520.81,185.82 L521.11,185.81 L521.40,185.80 L521.70,185.79 L522.00,185.78 L522.30,185.77 L522.60,185.76 L522.90,185.75 L523.20,185.75 L523.50,185.74 L523.80,185.73 L524.09,185.73 L524.39,185.72 L524.69,185.72 L524.99,185.71 L525.29,185.71 L525.59,185.70 L525.89,185.70 L526.19,185.70 L526.48,185.70 L526.78,185.70 L527.08,185.69 L527.38,185.69 L527.68,185.69 L527.98,185.69 L528.28,185.69 L528.58,185.69 L528.88,185.69 L529.17,185.69 L529.47,185.69 L529.77,185.69 L530.07,185.69 L530.37,185.69 L530.67,185.69 L530.97,185.69 L531.27,185.69 L531.56,185.69 L531.86,185.69 L532.16,185.69 L532.46,185.69 L532.76,185.69 L533.06,185.69 L533.36,185.69 L533.66,185.69 L533.96,185.69 L534.25,185.69 L534.55,185.69 L534.85,185.69 L535.15,185.69 L535.45,185.69 L535.75,185.69 L536.05,185.69 L536.35,185.69 L536.64,185.69 L536.94,185.69 L537.24,185.69 L537.54,185.69 L537.84,185.69 L538.14,185.69 L538.44,185.69 L538.74,185.69 L539.04,185.69 L539.33,185.69 L539.63,185.69 L539.93,185.69 L540.23,185.69 L540.53,185.69 L540.83,185.69 L541.13,185.69 L541.43,185.69 L541.72,185.69 L542.02,185.69 L542.32,185.69 L542.62,185.69 L542.92,185.69 L543.22,185.69 L543.52,185.69 L543.82,185.69 L544.12,185.69 L544.41,185.69 L544.71,185.69 L545.01,185.69 L545.31,185.69 L545.61,185.69 L545.91,185.69 L546.21,185.69 L546.51,185.69 L546.80,185.69 L547.10,185.69 L547.40,185.69 L547.70,185.69 L548.00,185.69" fill="none" stroke="#484848" stroke-width="1.50" stroke-linejoin="round" stroke-linecap="butt" />
<text x="351.6" y="183.7" font-family="Liberation Sans, sans-serif" font-size="13.5" text-anchor="end" fill="#151515" stroke="#151515" stroke-width="0.3">5</text>
<text x="351.6" y="208.7" font-family="Liberation Sans, sans-serif" font-size="13.5" text-anchor="end" fill="#151515" stroke="#151515" stroke-width="0.3">4</text>
<text x="351.6" y="233.7" font-family="Liberation Sans, sans-serif" font-size="13.5" text-anchor="end" fill="#151515" stroke="#151515" stroke-width="0.3">3</text>
<text x="351.6" y="258.6" font-family="Liberation Sans, sans-serif" font-size="13.5" text-anchor="end" fill="#151515" stroke="#151515" stroke-width="0.3">2</text>
<text x="351.6" y="283.6" font-family="Liberation Sans, sans-serif" font-size="13.5" text-anchor="end" fill="#151515" stroke="#151515" stroke-width="0.3">1</text>
<text x="351.6" y="307.0" font-family="Liberation Sans, sans-serif" font-size="13.5" text-anchor="end" fill="#151515" stroke="#151515" stroke-width="0.3">0</text>
<text x="360.2" y="319.2" font-family="Liberation Sans, sans-serif" font-size="13.5" text-anchor="middle" fill="#151515" stroke="#151515" stroke-width="0.3">0</text>
<text x="407.1" y="319.2" font-family="Liberation Sans, sans-serif" font-size="13.5" text-anchor="middle" fill="#151515" stroke="#151515" stroke-width="0.3">50</text>
<text x="454.1" y="319.2" font-family="Liberation Sans, sans-serif" font-size="13.5" text-anchor="middle" fill="#151515" stroke="#151515" stroke-width="0.3">100</text>
<text x="501.0" y="319.2" font-family="Liberation Sans, sans-serif" font-size="13.5" text-anchor="middle" fill="#151515" stroke="#151515" stroke-width="0.3">150</text>
<text x="548.0" y="319.2" font-family="Liberation Sans, sans-serif" font-size="13.5" text-anchor="middle" fill="#151515" stroke="#151515" stroke-width="0.3">200</text>
<text x="461.2" y="336.8" font-family="Liberation Serif, serif" font-size="20.5" text-anchor="middle" textLength="94.0" lengthAdjust="spacingAndGlyphs" fill="#151515">Time (min)</text>
<text x="319.4" y="184.6" font-family="Liberation Sans, sans-serif" font-size="16.5" font-weight="bold" textLength="18.8" lengthAdjust="spacingAndGlyphs" fill="#151515">b2</text>
<g transform="translate(305.60,254.20) rotate(-90)"><text x="0.00" y="0.00" font-family="Liberation Serif, serif" font-size="18.0" font-style="italic" fill="#151515">C</text><text x="10.80" y="3.00" font-family="Liberation Sans, sans-serif" font-size="14.0" textLength="25.0" lengthAdjust="spacingAndGlyphs" fill="#151515">s,isf</text></g>
<rect x="421.7" y="127.7" width="128.8" height="47.2" fill="#fff" stroke="#2a2a2a" stroke-width="1.1"/>
<line x1="440" y1="174.9" x2="548" y2="174.9" stroke="#4a4ab0" stroke-width="0.8" opacity="0.6"/>
<line x1="436.5" y1="138.7" x2="463" y2="138.7" stroke="#000" stroke-width="1.3"/>
<line x1="436.5" y1="152.4" x2="463" y2="152.4" stroke="#e82020" stroke-width="1.3"/>
<line x1="436.5" y1="166.3" x2="463" y2="166.3" stroke="#2a7a6a" stroke-width="1.3"/>
<text x="467.0" y="141.0" font-family="Liberation Serif, serif" font-size="10.0" font-style="italic" fill="#151515" stroke="#111" stroke-width="0.22">C</text>
<text x="472.3" y="143.4" font-family="Liberation Serif, serif" font-size="8.2" textLength="18.4" lengthAdjust="spacingAndGlyphs" fill="#151515" stroke="#111" stroke-width="0.22">glu,isf</text>
<text x="493.4" y="141.0" font-family="Liberation Serif, serif" font-size="10.0" textLength="37.8" lengthAdjust="spacingAndGlyphs" fill="#151515" stroke="#111" stroke-width="0.22">(mmol/L)</text>
<text x="467.0" y="156.2" font-family="Liberation Serif, serif" font-size="10.0" font-style="italic" fill="#151515" stroke="#111" stroke-width="0.22">C</text>
<text x="472.3" y="158.6" font-family="Liberation Serif, serif" font-size="8.2" textLength="18.4" lengthAdjust="spacingAndGlyphs" fill="#151515" stroke="#111" stroke-width="0.22">pp,isf</text>
<text x="494.0" y="156.2" font-family="Liberation Serif, serif" font-size="10.0" textLength="34.6" lengthAdjust="spacingAndGlyphs" fill="#151515" stroke="#111" stroke-width="0.22">(10 g/L)</text>
<text x="467.0" y="168.6" font-family="Liberation Serif, serif" font-size="10.0" font-style="italic" fill="#151515" stroke="#111" stroke-width="0.22">C</text>
<text x="472.3" y="171.0" font-family="Liberation Serif, serif" font-size="8.2" textLength="22.6" lengthAdjust="spacingAndGlyphs" fill="#151515" stroke="#111" stroke-width="0.22">NaCl,isf</text>
<text x="498.6" y="168.6" font-family="Liberation Serif, serif" font-size="10.0" textLength="52.0" lengthAdjust="spacingAndGlyphs" fill="#151515" stroke="#111" stroke-width="0.22">(10<tspan font-size="6.5" dy="-3.6">2</tspan><tspan dy="3.6"> mmol/L)</tspan></text>
<line x1="359.8" y1="422.5" x2="553.0" y2="422.5" stroke="#b6f2f4" stroke-width="1"/>
<line x1="359.8" y1="407.5" x2="553.0" y2="407.5" stroke="#b6f2f4" stroke-width="1"/>
<line x1="359.8" y1="392.5" x2="553.0" y2="392.5" stroke="#b6f2f4" stroke-width="1"/>
<line x1="359.8" y1="376.5" x2="553.0" y2="376.5" stroke="#b6f2f4" stroke-width="1"/>
<line x1="359.8" y1="361.5" x2="553.0" y2="361.5" stroke="#b6f2f4" stroke-width="1"/>
<line x1="359.8" y1="346.5" x2="553.0" y2="346.5" stroke="#b6f2f4" stroke-width="1"/>
<line x1="408.5" y1="346.0" x2="408.5" y2="438.3" stroke="#b6f2f4" stroke-width="1"/>
<line x1="456.5" y1="346.0" x2="456.5" y2="438.3" stroke="#b6f2f4" stroke-width="1"/>
<line x1="504.5" y1="346.0" x2="504.5" y2="438.3" stroke="#b6f2f4" stroke-width="1"/>
<line x1="552.5" y1="346.0" x2="552.5" y2="438.3" stroke="#b6f2f4" stroke-width="1"/>
<line x1="359.8" y1="346.0" x2="359.8" y2="439.0" stroke="#a8a8a8" stroke-width="1.3"/>
<line x1="359.8" y1="438.3" x2="553.0" y2="438.3" stroke="#a8a8a8" stroke-width="1.2"/>
<path d="M359.80,360.78 L408.00,360.78 L408.00,360.78 L408.61,361.65 L409.22,363.81 L409.83,366.64 L410.43,371.69 L411.04,377.06 L411.65,382.16 L412.26,386.97 L412.87,391.52 L413.48,395.89 L414.09,400.18 L414.70,404.30 L415.30,408.03 L415.91,411.49 L416.52,414.71 L417.13,417.49 L417.74,419.76 L418.35,421.85 L418.96,423.76 L419.57,425.42 L420.17,426.78 L420.78,427.78 L421.39,428.62 L422.00,429.37 L422.61,430.04 L423.22,430.61 L423.83,431.10 L424.44,431.50 L425.04,431.81 L425.65,432.08 L426.26,432.33 L426.87,432.57 L427.48,432.79 L428.09,432.97 L428.70,433.12 L429.31,433.23 L429.91,433.30 L430.52,433.31 L431.13,433.31 L431.74,433.31 L432.35,433.31 L432.96,433.31 L433.57,433.31 L434.17,433.31 L434.78,433.31 L435.39,433.31 L436.00,433.31 L436.61,433.31 L437.22,433.31 L437.83,433.31 L438.44,433.31 L439.04,433.31 L439.65,433.31 L440.26,433.31 L440.87,433.31 L441.48,433.31 L442.09,433.31 L442.70,433.31 L443.31,433.31 L443.91,433.31 L444.52,433.30 L445.13,433.29 L445.74,433.27 L446.35,433.25 L446.96,433.22 L447.57,433.18 L448.18,433.14 L448.78,433.10 L449.39,433.05 L450.00,433.01 L450.61,432.96 L451.22,432.91 L451.83,432.86 L452.44,432.81 L453.04,432.76 L453.65,432.71 L454.26,432.67 L454.87,432.63 L455.48,432.59 L456.09,432.55 L456.70,432.52 L457.31,432.48 L457.91,432.45 L458.52,432.42 L459.13,432.38 L459.74,432.35 L460.35,432.32 L460.96,432.28 L461.57,432.25 L462.18,432.22 L462.78,432.19 L463.39,432.15 L464.00,432.12 L464.61,432.09 L465.22,432.06 L465.83,432.02 L466.44,431.99 L467.05,431.96 L467.65,431.93 L468.26,431.90 L468.87,431.86 L469.48,431.83 L470.09,431.80 L470.70,431.77 L471.31,431.74 L471.92,431.71 L472.52,431.68 L473.13,431.65 L473.74,431.61 L474.35,431.58 L474.96,431.55 L475.57,431.52 L476.18,431.49 L476.78,431.46 L477.39,431.43 L478.00,431.40 L478.61,431.37 L479.22,431.34 L479.83,431.31 L480.44,431.28 L481.05,431.25 L481.65,431.22 L482.26,431.20 L482.87,431.17 L483.48,431.14 L484.09,431.11 L484.70,431.08 L485.31,431.05 L485.92,431.02 L486.52,431.00 L487.13,430.97 L487.74,430.94 L488.35,430.91 L488.96,430.89 L489.57,430.86 L490.18,430.83 L490.79,430.81 L491.39,430.78 L492.00,430.75 L492.61,430.73 L493.22,430.70 L493.83,430.67 L494.44,430.65 L495.05,430.62 L495.65,430.60 L496.26,430.57 L496.87,430.55 L497.48,430.52 L498.09,430.50 L498.70,430.47 L499.31,430.45 L499.92,430.43 L500.52,430.40 L501.13,430.38 L501.74,430.35 L502.35,430.33 L502.96,430.31 L503.57,430.29 L504.18,430.26 L504.79,430.24 L504.79,430.24 L505.09,429.38 L505.39,428.46 L505.69,427.48 L505.99,426.44 L506.29,425.35 L506.59,424.21 L506.89,423.01 L507.19,421.73 L507.49,420.32 L507.79,418.81 L508.09,417.23 L508.39,415.61 L508.69,413.97 L509.00,412.36 L509.30,410.80 L509.60,409.31 L509.90,407.92 L510.20,406.56 L510.50,405.23 L510.80,403.91 L511.10,402.61 L511.40,401.33 L511.70,400.08 L512.00,398.86 L512.30,397.66 L512.60,396.50 L512.91,395.38 L513.21,394.29 L513.51,393.25 L513.81,392.24 L514.11,391.27 L514.41,390.34 L514.71,389.43 L515.01,388.54 L515.31,387.67 L515.61,386.82 L515.91,385.98 L516.21,385.14 L516.51,384.31 L516.81,383.48 L517.12,382.65 L517.42,381.82 L517.72,381.00 L518.02,380.18 L518.32,379.37 L518.62,378.58 L518.92,377.80 L519.22,377.05 L519.52,376.31 L519.82,375.59 L520.12,374.90 L520.42,374.21 L520.72,373.53 L521.02,372.86 L521.33,372.20 L521.63,371.55 L521.93,370.91 L522.23,370.29 L522.53,369.68 L522.83,369.10 L523.13,368.53 L523.43,367.99 L523.73,367.47 L524.03,366.98 L524.33,366.51 L524.63,366.05 L524.93,365.61 L525.23,365.19 L525.54,364.78 L525.84,364.38 L526.14,363.99 L526.44,363.61 L526.74,363.25 L527.04,362.89 L527.34,362.54 L527.64,362.19 L527.94,361.85 L528.24,361.52 L528.54,361.18 L528.84,360.85 L529.14,360.52 L529.44,360.19 L529.75,359.87 L530.05,359.55 L530.35,359.23 L530.65,358.93 L530.95,358.63 L531.25,358.34 L531.55,358.05 L531.85,357.78 L532.15,357.52 L532.45,357.27 L532.75,357.03 L533.05,356.81 L533.35,356.60 L533.65,356.41 L533.96,356.22 L534.26,356.03 L534.56,355.85 L534.86,355.67 L535.16,355.50 L535.46,355.34 L535.76,355.17 L536.06,355.02 L536.36,354.86 L536.66,354.72 L536.96,354.57 L537.26,354.44 L537.56,354.30 L537.86,354.17 L538.17,354.05 L538.47,353.93 L538.77,353.81 L539.07,353.70 L539.37,353.60 L539.67,353.50 L539.97,353.40 L540.27,353.30 L540.57,353.21 L540.87,353.12 L541.17,353.04 L541.47,352.96 L541.77,352.88 L542.07,352.80 L542.38,352.72 L542.68,352.65 L542.98,352.58 L543.28,352.51 L543.58,352.44 L543.88,352.37 L544.18,352.30 L544.48,352.24 L544.78,352.18 L545.08,352.11 L545.38,352.05 L545.68,351.99 L545.98,351.93 L546.28,351.87 L546.59,351.81 L546.89,351.75 L547.19,351.69 L547.49,351.63 L547.79,351.58 L548.09,351.52 L548.39,351.47 L548.69,351.41 L548.99,351.36 L549.29,351.31 L549.59,351.26 L549.89,351.21 L550.19,351.16 L550.49,351.11 L550.80,351.06 L551.10,351.02 L551.40,350.97 L551.70,350.93 L552.00,350.89 L552.30,350.84 L552.60,350.81" fill="none" stroke="#42a042" stroke-width="1.45" stroke-linejoin="round" stroke-linecap="butt" />
<text x="350.4" y="351.2" font-family="Liberation Sans, sans-serif" font-size="13.5" text-anchor="end" fill="#151515" stroke="#151515" stroke-width="0.3">1.20</text>
<text x="350.4" y="381.9" font-family="Liberation Sans, sans-serif" font-size="13.5" text-anchor="end" fill="#151515" stroke="#151515" stroke-width="0.3">1.12</text>
<text x="350.4" y="412.6" font-family="Liberation Sans, sans-serif" font-size="13.5" text-anchor="end" fill="#151515" stroke="#151515" stroke-width="0.3">1.04</text>
<text x="350.4" y="443.3" font-family="Liberation Sans, sans-serif" font-size="13.5" text-anchor="end" fill="#151515" stroke="#151515" stroke-width="0.3">0.96</text>
<text x="363.6" y="455.0" font-family="Liberation Sans, sans-serif" font-size="13.5" text-anchor="middle" fill="#151515" stroke="#151515" stroke-width="0.3">0</text>
<text x="410.2" y="455.0" font-family="Liberation Sans, sans-serif" font-size="13.5" text-anchor="middle" fill="#151515" stroke="#151515" stroke-width="0.3">50</text>
<text x="458.2" y="455.0" font-family="Liberation Sans, sans-serif" font-size="13.5" text-anchor="middle" fill="#151515" stroke="#151515" stroke-width="0.3">100</text>
<text x="505.0" y="455.0" font-family="Liberation Sans, sans-serif" font-size="13.5" text-anchor="middle" fill="#151515" stroke="#151515" stroke-width="0.3">150</text>
<text x="551.8" y="455.0" font-family="Liberation Sans, sans-serif" font-size="13.5" text-anchor="middle" fill="#151515" stroke="#151515" stroke-width="0.3">200</text>
<text x="461.2" y="476.4" font-family="Liberation Serif, serif" font-size="20.5" text-anchor="middle" textLength="94.0" lengthAdjust="spacingAndGlyphs" fill="#151515">Time (min)</text>
<text x="319.0" y="327.5" font-family="Liberation Sans, sans-serif" font-size="16.5" font-weight="bold" textLength="18.4" lengthAdjust="spacingAndGlyphs" fill="#151515">b3</text>
<g transform="translate(307.70,406.00) rotate(-90)"><text x="0.00" y="0.00" font-family="Liberation Serif, serif" font-size="19.5" font-style="italic" textLength="16.8" lengthAdjust="spacingAndGlyphs" fill="#151515">rV</text><text x="15.60" y="3.10" font-family="Liberation Serif, serif" font-size="15.0" textLength="16.0" lengthAdjust="spacingAndGlyphs" fill="#151515">isf</text></g>
</svg>
</body></html>
